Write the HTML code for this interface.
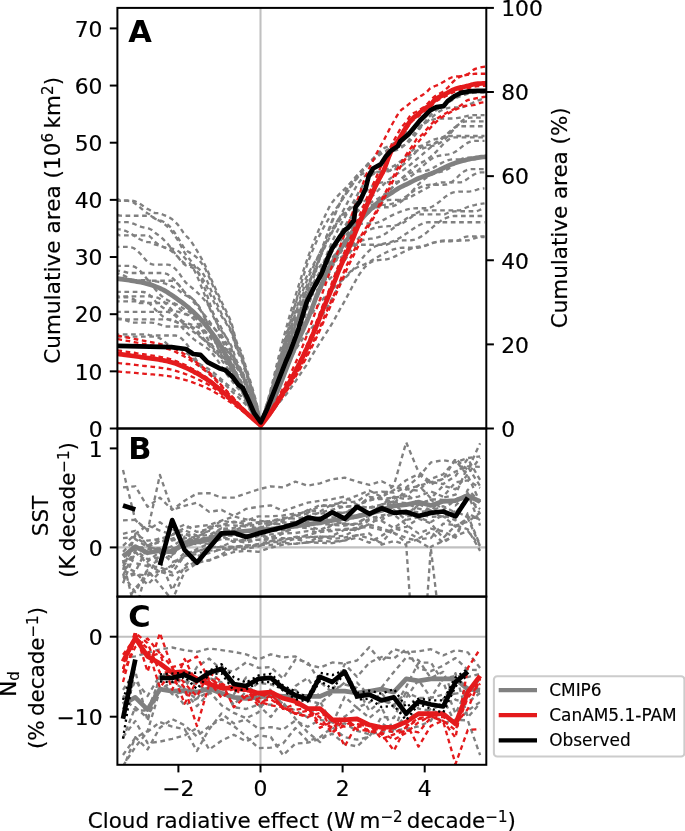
<!DOCTYPE html>
<html lang="en">
<head>
<meta charset="utf-8">
<title>Cumulative area vs cloud radiative effect</title>
<style>
html,body{margin:0;padding:0;background:#fff;}
body{width:685px;height:831px;overflow:hidden;}
svg{display:block;}
</style>
</head>
<body>
<svg width="685" height="831" viewBox="0 0 685 831">
<defs>
<clipPath id="ca"><rect x="117.40" y="7.90" width="368.90" height="420.60"/></clipPath>
<clipPath id="cb"><rect x="117.40" y="428.50" width="368.90" height="168.10"/></clipPath>
<clipPath id="cc"><rect x="117.40" y="596.60" width="368.90" height="168.20"/></clipPath>
</defs>
<rect width="685" height="831" fill="#fff"/>
<line x1="260.50" x2="260.50" y1="7.90" y2="764.80" stroke="#c0c0c0" stroke-width="2.08"/>
<line x1="117.40" x2="486.30" y1="547.40" y2="547.40" stroke="#c0c0c0" stroke-width="2.08"/>
<line x1="117.40" x2="486.30" y1="636.70" y2="636.70" stroke="#c0c0c0" stroke-width="2.08"/>
<path d="M117.4 199.0 L119.4 199.8 L121.4 200.3 L123.4 200.5 L125.4 200.5 L127.4 200.5 L129.4 200.5 L131.4 200.6 L133.4 201.0 L135.4 201.5 L137.4 202.4 L139.4 203.5 L141.4 204.8 L143.4 206.2 L145.4 207.6 L147.4 208.9 L149.4 209.8 L151.4 211.0 L153.4 212.7 L155.4 213.1 L157.4 213.1 L159.4 213.1 L161.4 213.9 L163.4 214.8 L165.4 215.6 L167.4 216.4 L169.4 217.4 L171.4 218.7 L173.4 220.3 L175.4 222.2 L177.4 224.2 L179.4 226.7 L181.4 229.7 L183.4 232.7 L185.4 235.3 L187.4 237.2 L189.4 239.2 L191.4 241.9 L193.4 244.8 L195.4 248.1 L197.4 251.4 L199.4 254.8 L201.4 258.4 L203.4 262.0 L205.4 265.9 L207.4 270.3 L209.4 275.0 L211.4 279.6 L213.4 284.1 L215.4 288.4 L217.4 292.7 L219.4 297.0 L221.4 301.4 L223.4 305.6 L225.4 309.5 L227.4 313.5 L229.4 317.8 L231.4 322.7 L233.4 330.0 L235.4 338.2 L237.4 344.2 L239.4 347.9 L241.4 352.1 L243.4 358.5 L245.4 365.4 L247.4 371.6 L249.4 378.0 L251.4 384.7 L253.4 391.5 L255.4 398.7 L257.4 406.2 L259.4 416.7 L262.5 416.7 L264.5 416.7 L266.5 416.7 L268.5 416.7 L270.5 414.3 L272.5 411.6 L274.5 408.8 L276.5 406.0 L278.5 403.4 L280.5 400.9 L282.5 398.6 L284.5 396.4 L286.5 393.9 L288.5 391.3 L290.5 388.5 L292.5 385.7 L294.5 382.8 L296.5 379.8 L298.5 376.8 L300.5 373.8 L302.5 370.8 L304.5 367.9 L306.5 365.1 L308.5 361.7 L310.5 358.2 L312.5 354.8 L314.5 351.4 L316.5 348.1 L318.5 344.9 L320.5 341.7 L322.5 338.6 L324.5 335.5 L326.5 332.4 L328.5 329.3 L330.5 326.1 L332.5 322.8 L334.5 319.2 L336.5 315.6 L338.5 311.9 L340.5 308.3 L342.5 304.8 L344.5 301.3 L346.5 297.6 L348.5 293.9 L350.5 290.1 L352.5 286.3 L354.5 282.6 L356.5 279.1 L358.5 275.7 L360.5 272.7 L362.5 270.0 L364.5 267.5 L366.5 265.5 L368.5 263.7 L370.5 262.4 L372.5 261.4 L374.5 260.8 L376.5 260.3 L378.5 260.1 L380.5 259.9 L382.5 259.8 L384.5 259.6 L386.5 259.3 L388.5 258.8 L390.5 258.2 L392.5 257.5 L394.5 256.6 L396.5 255.6 L398.5 254.6 L400.5 253.5 L402.5 252.5 L404.5 251.5 L406.5 250.5 L408.5 249.6 L410.5 248.8 L412.5 248.1 L414.5 247.5 L416.5 247.0 L418.5 246.7 L420.5 246.4 L422.5 246.3 L424.5 245.7 L426.5 245.0 L428.5 244.2 L430.5 243.5 L432.5 242.9 L434.5 242.4 L436.5 242.0 L438.5 241.7 L440.5 241.5 L442.5 241.4 L444.5 241.4 L446.5 241.4 L448.5 241.4 L450.5 241.3 L452.5 241.2 L454.5 241.0 L456.5 240.8 L458.5 240.6 L460.5 239.2 L462.5 238.0 L464.5 237.2 L466.5 236.6 L468.5 236.4 L470.5 236.4 L472.5 236.4 L474.5 236.4 L476.5 236.4 L478.5 236.4 L480.5 236.4 L482.5 236.4 L484.5 236.4" fill="none" stroke="#808080" stroke-width="2.35" stroke-dasharray="4.7 3.6" stroke-linecap="butt" stroke-linejoin="round" clip-path="url(#ca)" stroke-dashoffset="1.6"/>
<path d="M117.4 200.9 L119.4 200.9 L121.4 200.9 L123.4 200.9 L125.4 200.9 L127.4 200.9 L129.4 201.0 L131.4 201.5 L133.4 202.4 L135.4 203.7 L137.4 205.2 L139.4 206.9 L141.4 208.6 L143.4 210.3 L145.4 211.9 L147.4 213.3 L149.4 214.3 L151.4 215.7 L153.4 217.6 L155.4 218.9 L157.4 219.5 L159.4 220.1 L161.4 220.8 L163.4 221.8 L165.4 222.9 L167.4 224.3 L169.4 226.1 L171.4 228.4 L173.4 231.0 L175.4 233.8 L177.4 236.8 L179.4 240.0 L181.4 243.5 L183.4 246.9 L185.4 249.5 L187.4 251.3 L189.4 252.4 L191.4 253.5 L193.4 254.8 L195.4 256.4 L197.4 258.2 L199.4 260.4 L201.4 262.9 L203.4 265.7 L205.4 269.1 L207.4 273.2 L209.4 277.7 L211.4 282.4 L213.4 286.9 L215.4 291.3 L217.4 295.6 L219.4 300.0 L221.4 304.4 L223.4 308.6 L225.4 312.5 L227.4 316.4 L229.4 320.6 L231.4 325.4 L233.4 332.5 L235.4 340.6 L237.4 346.6 L239.4 350.4 L241.4 354.8 L243.4 361.2 L245.4 368.1 L247.4 374.3 L249.4 380.6 L251.4 387.2 L253.4 393.7 L255.4 400.5 L257.4 407.6 L259.4 417.3 L262.5 417.3 L264.5 417.1 L266.5 413.1 L268.5 408.9 L270.5 404.3 L272.5 399.4 L274.5 394.3 L276.5 389.2 L278.5 384.3 L280.5 379.6 L282.5 375.1 L284.5 370.9 L286.5 366.8 L288.5 362.8 L290.5 359.0 L292.5 355.2 L294.5 351.6 L296.5 348.2 L298.5 345.1 L300.5 342.1 L302.5 339.2 L304.5 336.4 L306.5 333.8 L308.5 331.4 L310.5 329.2 L312.5 326.9 L314.5 324.7 L316.5 322.4 L318.5 320.0 L320.5 317.5 L322.5 314.7 L324.5 311.7 L326.5 308.5 L328.5 305.1 L330.5 301.5 L332.5 297.8 L334.5 294.0 L336.5 290.2 L338.5 286.5 L340.5 283.2 L342.5 280.2 L344.5 277.6 L346.5 275.3 L348.5 273.3 L350.5 271.5 L352.5 270.0 L354.5 268.8 L356.5 267.7 L358.5 266.8 L360.5 266.0 L362.5 265.2 L364.5 264.4 L366.5 263.4 L368.5 262.4 L370.5 261.3 L372.5 260.1 L374.5 258.9 L376.5 257.7 L378.5 256.5 L380.5 255.4 L382.5 254.3 L384.5 253.2 L386.5 252.2 L388.5 251.3 L390.5 250.5 L392.5 249.7 L394.5 249.1 L396.5 248.5 L398.5 248.1 L400.5 247.8 L402.5 247.7 L404.5 247.7 L406.5 247.7 L408.5 247.7 L410.5 247.7 L412.5 247.7 L414.5 247.7 L416.5 247.7 L418.5 247.7 L420.5 247.3 L422.5 246.8 L424.5 246.2 L426.5 245.5 L428.5 244.7 L430.5 243.9 L432.5 243.2 L434.5 242.5 L436.5 241.8 L438.5 241.4 L440.5 241.0 L442.5 240.6 L444.5 240.5 L446.5 240.5 L448.5 240.5 L450.5 240.5 L452.5 240.5 L454.5 240.5 L456.5 240.5 L458.5 240.5 L460.5 240.5 L462.5 240.5 L464.5 240.5 L466.5 240.4 L468.5 240.3 L470.5 239.7 L472.5 238.9 L474.5 238.3 L476.5 237.7 L478.5 237.4 L480.5 237.1 L482.5 237.0 L484.5 237.0" fill="none" stroke="#808080" stroke-width="2.35" stroke-dasharray="4.7 3.6" stroke-linecap="butt" stroke-linejoin="round" clip-path="url(#ca)" stroke-dashoffset="1.1"/>
<path d="M117.4 215.0 L119.4 215.5 L121.4 215.7 L123.4 215.7 L125.4 215.7 L127.4 215.7 L129.4 215.7 L131.4 215.7 L133.4 215.7 L135.4 215.7 L137.4 215.7 L139.4 215.7 L141.4 215.7 L143.4 215.7 L145.4 215.7 L147.4 215.7 L149.4 215.7 L151.4 216.2 L153.4 217.6 L155.4 218.9 L157.4 219.8 L159.4 220.8 L161.4 221.9 L163.4 223.3 L165.4 224.9 L167.4 226.6 L169.4 228.6 L171.4 231.0 L173.4 233.6 L175.4 236.5 L177.4 239.5 L179.4 242.9 L181.4 246.8 L183.4 250.6 L185.4 254.0 L187.4 256.7 L189.4 259.0 L191.4 261.4 L193.4 264.3 L195.4 267.5 L197.4 271.2 L199.4 275.3 L201.4 279.8 L203.4 284.7 L205.4 290.1 L207.4 296.0 L209.4 302.2 L211.4 308.3 L213.4 314.2 L215.4 319.7 L217.4 325.0 L219.4 330.0 L221.4 334.5 L223.4 338.4 L225.4 341.9 L227.4 345.1 L229.4 348.3 L231.4 351.9 L233.4 356.8 L235.4 362.3 L237.4 366.6 L239.4 369.8 L241.4 373.4 L243.4 378.3 L245.4 383.6 L247.4 388.5 L249.4 393.4 L251.4 398.5 L253.4 403.5 L255.4 408.5 L257.4 413.7 L259.4 420.2 L262.5 420.2 L264.5 415.8 L266.5 411.0 L268.5 406.0 L270.5 400.6 L272.5 394.8 L274.5 388.9 L276.5 382.9 L278.5 377.3 L280.5 372.1 L282.5 367.2 L284.5 362.7 L286.5 358.4 L288.5 354.2 L290.5 350.3 L292.5 346.4 L294.5 342.6 L296.5 339.0 L298.5 335.5 L300.5 332.1 L302.5 328.6 L304.5 325.2 L306.5 321.8 L308.5 318.6 L310.5 315.6 L312.5 312.7 L314.5 309.9 L316.5 307.2 L318.5 304.6 L320.5 302.1 L322.5 299.7 L324.5 297.3 L326.5 295.1 L328.5 293.0 L330.5 291.0 L332.5 289.0 L334.5 287.1 L336.5 285.2 L338.5 283.3 L340.5 281.6 L342.5 280.0 L344.5 278.4 L346.5 276.6 L348.5 274.6 L350.5 272.5 L352.5 270.2 L354.5 267.8 L356.5 265.3 L358.5 262.8 L360.5 260.4 L362.5 257.9 L364.5 255.6 L366.5 253.3 L368.5 251.3 L370.5 249.5 L372.5 248.0 L374.5 246.8 L376.5 245.8 L378.5 245.0 L380.5 244.4 L382.5 244.0 L384.5 243.5 L386.5 243.1 L388.5 242.6 L390.5 242.1 L392.5 241.4 L394.5 240.6 L396.5 239.6 L398.5 238.6 L400.5 237.4 L402.5 236.1 L404.5 234.8 L406.5 233.4 L408.5 232.1 L410.5 230.7 L412.5 229.3 L414.5 228.0 L416.5 226.7 L418.5 225.5 L420.5 224.5 L422.5 223.6 L424.5 222.9 L426.5 222.4 L428.5 222.2 L430.5 222.2 L432.5 222.2 L434.5 222.2 L436.5 222.2 L438.5 222.2 L440.5 222.2 L442.5 222.2 L444.5 222.2 L446.5 222.2 L448.5 222.2 L450.5 222.2 L452.5 222.2 L454.5 222.2 L456.5 222.2 L458.5 222.2 L460.5 222.2 L462.5 222.2 L464.5 222.2 L466.5 222.2 L468.5 222.2 L470.5 222.2 L472.5 222.2 L474.5 222.2 L476.5 222.2 L478.5 222.2 L480.5 222.2 L482.5 222.2 L484.5 222.2" fill="none" stroke="#808080" stroke-width="2.35" stroke-dasharray="4.7 3.6" stroke-linecap="butt" stroke-linejoin="round" clip-path="url(#ca)" stroke-dashoffset="0.1"/>
<path d="M117.4 222.1 L119.4 222.1 L121.4 222.1 L123.4 222.1 L125.4 222.1 L127.4 222.1 L129.4 222.4 L131.4 223.0 L133.4 223.7 L135.4 224.5 L137.4 225.4 L139.4 226.2 L141.4 226.9 L143.4 227.4 L145.4 227.9 L147.4 228.2 L149.4 228.7 L151.4 229.7 L153.4 231.5 L155.4 233.1 L157.4 234.4 L159.4 235.9 L161.4 237.5 L163.4 239.4 L165.4 241.5 L167.4 243.6 L169.4 246.1 L171.4 248.7 L173.4 251.4 L175.4 254.0 L177.4 256.4 L179.4 258.9 L181.4 261.4 L183.4 263.6 L185.4 265.2 L187.4 266.1 L189.4 266.6 L191.4 267.2 L193.4 268.2 L195.4 269.6 L197.4 271.6 L199.4 274.0 L201.4 276.8 L203.4 280.0 L205.4 283.6 L207.4 287.9 L209.4 292.4 L211.4 296.9 L213.4 301.1 L215.4 305.1 L217.4 308.8 L219.4 312.4 L221.4 315.9 L223.4 319.2 L225.4 322.2 L227.4 325.3 L229.4 328.7 L231.4 332.7 L233.4 338.9 L235.4 346.2 L237.4 351.6 L239.4 355.2 L241.4 359.3 L243.4 365.3 L245.4 371.7 L247.4 377.6 L249.4 383.5 L251.4 389.6 L253.4 395.8 L255.4 402.2 L257.4 408.8 L259.4 417.9 L262.5 417.9 L264.5 412.1 L266.5 405.8 L268.5 399.5 L270.5 392.9 L272.5 386.1 L274.5 379.1 L276.5 372.1 L278.5 365.5 L280.5 359.1 L282.5 353.0 L284.5 347.0 L286.5 341.0 L288.5 335.0 L290.5 329.1 L292.5 323.2 L294.5 317.6 L296.5 312.2 L298.5 307.3 L300.5 302.7 L302.5 298.6 L304.5 294.9 L306.5 291.7 L308.5 288.8 L310.5 286.3 L312.5 284.0 L314.5 281.7 L316.5 279.4 L318.5 276.9 L320.5 274.3 L322.5 271.5 L324.5 268.6 L326.5 265.7 L328.5 262.8 L330.5 260.0 L332.5 257.4 L334.5 255.0 L336.5 252.8 L338.5 250.9 L340.5 249.3 L342.5 248.1 L344.5 247.1 L346.5 246.3 L348.5 245.7 L350.5 245.2 L352.5 244.9 L354.5 244.7 L356.5 244.7 L358.5 244.7 L360.5 244.7 L362.5 244.7 L364.5 244.7 L366.5 244.7 L368.5 244.7 L370.5 244.7 L372.5 244.7 L374.5 244.7 L376.5 244.7 L378.5 244.7 L380.5 244.7 L382.5 244.7 L384.5 244.7 L386.5 244.7 L388.5 243.9 L390.5 243.0 L392.5 242.2 L394.5 241.6 L396.5 241.1 L398.5 240.8 L400.5 240.6 L402.5 240.4 L404.5 240.4 L406.5 240.4 L408.5 240.4 L410.5 240.3 L412.5 240.0 L414.5 239.6 L416.5 238.9 L418.5 238.0 L420.5 236.9 L422.5 235.6 L424.5 234.2 L426.5 232.6 L428.5 230.9 L430.5 229.2 L432.5 227.4 L434.5 225.7 L436.5 224.0 L438.5 222.5 L440.5 221.1 L442.5 219.8 L444.5 218.7 L446.5 217.8 L448.5 217.1 L450.5 216.5 L452.5 216.2 L454.5 216.0 L456.5 216.0 L458.5 216.0 L460.5 216.0 L462.5 216.0 L464.5 216.0 L466.5 216.0 L468.5 216.0 L470.5 216.0 L472.5 216.0 L474.5 216.0 L476.5 216.0 L478.5 216.0 L480.5 216.0 L482.5 216.0 L484.5 216.0" fill="none" stroke="#808080" stroke-width="2.35" stroke-dasharray="4.7 3.6" stroke-linecap="butt" stroke-linejoin="round" clip-path="url(#ca)" stroke-dashoffset="1.6"/>
<path d="M117.4 229.3 L119.4 229.4 L121.4 229.6 L123.4 230.1 L125.4 230.8 L127.4 231.7 L129.4 232.7 L131.4 234.0 L133.4 235.3 L135.4 236.6 L137.4 237.8 L139.4 239.0 L141.4 240.0 L143.4 240.9 L145.4 241.6 L147.4 242.1 L149.4 242.2 L151.4 242.7 L153.4 243.8 L155.4 244.7 L157.4 245.2 L159.4 245.7 L161.4 246.3 L163.4 247.0 L165.4 247.8 L167.4 248.6 L169.4 249.7 L171.4 251.1 L173.4 252.8 L175.4 254.5 L177.4 256.3 L179.4 258.3 L181.4 260.5 L183.4 262.5 L185.4 263.9 L187.4 264.6 L189.4 264.9 L191.4 265.1 L193.4 265.6 L195.4 266.5 L197.4 267.7 L199.4 269.4 L201.4 271.5 L203.4 274.2 L205.4 277.5 L207.4 281.6 L209.4 286.2 L211.4 291.0 L213.4 295.7 L215.4 300.3 L217.4 304.8 L219.4 309.1 L221.4 313.3 L223.4 317.1 L225.4 320.5 L227.4 323.7 L229.4 327.0 L231.4 331.0 L233.4 337.0 L235.4 344.1 L237.4 349.3 L239.4 352.8 L241.4 356.8 L243.4 363.0 L245.4 369.8 L247.4 376.0 L249.4 382.3 L251.4 388.8 L253.4 395.3 L255.4 401.9 L257.4 408.8 L259.4 418.1 L262.5 418.1 L264.5 413.0 L266.5 407.5 L268.5 402.0 L270.5 396.1 L272.5 389.9 L274.5 383.5 L276.5 377.0 L278.5 370.8 L280.5 364.9 L282.5 359.2 L284.5 353.6 L286.5 348.1 L288.5 342.7 L290.5 337.4 L292.5 332.2 L294.5 327.2 L296.5 322.4 L298.5 318.0 L300.5 313.8 L302.5 309.8 L304.5 306.1 L306.5 302.8 L308.5 299.8 L310.5 297.1 L312.5 294.7 L314.5 292.5 L316.5 290.5 L318.5 288.5 L320.5 286.7 L322.5 284.9 L324.5 283.2 L326.5 281.5 L328.5 279.7 L330.5 278.0 L332.5 276.1 L334.5 274.0 L336.5 271.7 L338.5 269.1 L340.5 266.4 L342.5 263.7 L344.5 260.8 L346.5 257.8 L348.5 254.7 L350.5 251.7 L352.5 248.9 L354.5 246.4 L356.5 244.3 L358.5 242.5 L360.5 241.2 L362.5 240.3 L364.5 239.7 L366.5 239.2 L368.5 239.0 L370.5 238.7 L372.5 238.5 L374.5 238.2 L376.5 237.7 L378.5 237.1 L380.5 236.3 L382.5 235.3 L384.5 234.2 L386.5 233.0 L388.5 231.6 L390.5 230.2 L392.5 228.8 L394.5 227.3 L396.5 225.8 L398.5 224.3 L400.5 222.8 L402.5 221.3 L404.5 219.9 L406.5 218.5 L408.5 217.3 L410.5 216.2 L412.5 215.4 L414.5 214.8 L416.5 214.5 L418.5 214.4 L420.5 214.4 L422.5 214.4 L424.5 214.4 L426.5 214.4 L428.5 214.4 L430.5 214.4 L432.5 214.4 L434.5 214.4 L436.5 214.4 L438.5 214.4 L440.5 214.4 L442.5 214.4 L444.5 214.3 L446.5 213.5 L448.5 212.7 L450.5 212.0 L452.5 211.5 L454.5 211.3 L456.5 211.2 L458.5 211.2 L460.5 211.2 L462.5 211.2 L464.5 211.2 L466.5 211.2 L468.5 211.2 L470.5 211.2 L472.5 211.2 L474.5 211.2 L476.5 211.2 L478.5 210.5 L480.5 209.7 L482.5 209.0 L484.5 208.3" fill="none" stroke="#808080" stroke-width="2.35" stroke-dasharray="4.7 3.6" stroke-linecap="butt" stroke-linejoin="round" clip-path="url(#ca)" stroke-dashoffset="1.4"/>
<path d="M117.4 234.2 L119.4 235.3 L121.4 235.3 L123.4 235.3 L125.4 235.3 L127.4 235.3 L129.4 235.3 L131.4 235.3 L133.4 235.3 L135.4 235.3 L137.4 235.3 L139.4 235.3 L141.4 235.3 L143.4 235.3 L145.4 235.3 L147.4 235.4 L149.4 236.2 L151.4 237.8 L153.4 240.2 L155.4 242.3 L157.4 243.8 L159.4 245.1 L161.4 246.1 L163.4 247.0 L165.4 247.6 L167.4 247.9 L169.4 248.1 L171.4 248.5 L173.4 249.0 L175.4 249.7 L177.4 250.5 L179.4 251.9 L181.4 254.0 L183.4 256.3 L185.4 258.7 L187.4 260.7 L189.4 262.8 L191.4 265.4 L193.4 268.6 L195.4 272.5 L197.4 276.9 L199.4 281.7 L201.4 286.7 L203.4 291.7 L205.4 296.9 L207.4 302.3 L209.4 307.5 L211.4 312.4 L213.4 316.7 L215.4 320.7 L217.4 324.2 L219.4 327.6 L221.4 330.6 L223.4 333.5 L225.4 336.2 L227.4 339.0 L229.4 342.2 L231.4 346.0 L233.4 351.4 L235.4 357.7 L237.4 362.6 L239.4 366.2 L241.4 370.1 L243.4 375.3 L245.4 380.8 L247.4 385.8 L249.4 390.8 L251.4 395.9 L253.4 401.1 L255.4 406.3 L257.4 411.9 L259.4 419.2 L262.5 418.2 L264.5 412.2 L266.5 406.2 L268.5 400.1 L270.5 393.7 L272.5 387.0 L274.5 380.1 L276.5 373.2 L278.5 366.6 L280.5 360.4 L282.5 354.6 L284.5 349.0 L286.5 343.6 L288.5 338.4 L290.5 333.4 L292.5 328.6 L294.5 324.1 L296.5 319.8 L298.5 315.8 L300.5 312.0 L302.5 308.0 L304.5 304.2 L306.5 300.4 L308.5 296.8 L310.5 293.3 L312.5 289.9 L314.5 286.6 L316.5 283.3 L318.5 280.2 L320.5 277.1 L322.5 274.1 L324.5 271.4 L326.5 269.0 L328.5 266.8 L330.5 265.0 L332.5 263.4 L334.5 261.9 L336.5 260.4 L338.5 259.0 L340.5 257.6 L342.5 256.1 L344.5 254.4 L346.5 252.5 L348.5 250.3 L350.5 248.0 L352.5 245.5 L354.5 243.0 L356.5 240.5 L358.5 238.2 L360.5 236.2 L362.5 234.3 L364.5 232.7 L366.5 231.3 L368.5 230.2 L370.5 229.3 L372.5 228.5 L374.5 228.0 L376.5 227.5 L378.5 227.2 L380.5 226.9 L382.5 226.7 L384.5 226.5 L386.5 226.4 L388.5 226.2 L390.5 226.1 L392.5 225.9 L394.5 225.6 L396.5 225.2 L398.5 224.7 L400.5 224.0 L402.5 223.1 L404.5 222.0 L406.5 220.7 L408.5 219.3 L410.5 217.7 L412.5 216.2 L414.5 214.7 L416.5 213.3 L418.5 212.1 L420.5 211.2 L422.5 210.6 L424.5 210.3 L426.5 210.3 L428.5 210.3 L430.5 210.3 L432.5 210.3 L434.5 210.3 L436.5 210.3 L438.5 210.3 L440.5 210.3 L442.5 210.3 L444.5 210.3 L446.5 210.3 L448.5 210.3 L450.5 210.3 L452.5 210.3 L454.5 210.3 L456.5 210.3 L458.5 210.3 L460.5 210.3 L462.5 209.3 L464.5 208.3 L466.5 207.5 L468.5 206.7 L470.5 206.1 L472.5 205.5 L474.5 205.1 L476.5 204.6 L478.5 204.3 L480.5 203.9 L482.5 203.6 L484.5 203.3" fill="none" stroke="#808080" stroke-width="2.35" stroke-dasharray="4.7 3.6" stroke-linecap="butt" stroke-linejoin="round" clip-path="url(#ca)" stroke-dashoffset="1.4"/>
<path d="M117.4 246.9 L119.4 246.9 L121.4 246.9 L123.4 246.9 L125.4 246.9 L127.4 246.9 L129.4 246.9 L131.4 247.3 L133.4 248.0 L135.4 249.2 L137.4 250.8 L139.4 252.8 L141.4 254.9 L143.4 257.3 L145.4 259.6 L147.4 261.7 L149.4 263.0 L151.4 264.2 L153.4 264.6 L155.4 264.6 L157.4 264.6 L159.4 264.6 L161.4 264.6 L163.4 264.6 L165.4 264.6 L167.4 264.6 L169.4 264.9 L171.4 265.8 L173.4 267.2 L175.4 269.0 L177.4 271.1 L179.4 273.7 L181.4 276.6 L183.4 279.6 L185.4 282.1 L187.4 284.1 L189.4 285.7 L191.4 287.3 L193.4 289.0 L195.4 290.7 L197.4 292.6 L199.4 294.5 L201.4 296.6 L203.4 298.7 L205.4 301.1 L207.4 303.9 L209.4 307.1 L211.4 310.4 L213.4 313.7 L215.4 317.1 L217.4 320.6 L219.4 324.2 L221.4 328.1 L223.4 332.2 L225.4 336.1 L227.4 340.0 L229.4 344.2 L231.4 348.7 L233.4 354.5 L235.4 360.8 L237.4 365.6 L239.4 369.0 L241.4 372.6 L243.4 377.4 L245.4 382.5 L247.4 387.2 L249.4 391.8 L251.4 396.7 L253.4 401.6 L255.4 406.8 L257.4 412.2 L259.4 419.3 L262.5 418.5 L264.5 413.2 L266.5 407.9 L268.5 402.5 L270.5 396.8 L272.5 390.8 L274.5 384.6 L276.5 378.3 L278.5 372.2 L280.5 366.3 L282.5 360.6 L284.5 354.9 L286.5 349.3 L288.5 343.8 L290.5 338.3 L292.5 332.8 L294.5 327.6 L296.5 322.6 L298.5 317.8 L300.5 313.3 L302.5 309.0 L304.5 304.9 L306.5 301.2 L308.5 297.7 L310.5 294.4 L312.5 291.4 L314.5 288.4 L316.5 285.5 L318.5 282.6 L320.5 279.6 L322.5 276.6 L324.5 273.5 L326.5 270.4 L328.5 267.3 L330.5 264.1 L332.5 260.9 L334.5 257.5 L336.5 254.1 L338.5 250.6 L340.5 247.2 L342.5 243.8 L344.5 240.5 L346.5 237.4 L348.5 234.4 L350.5 231.7 L352.5 229.3 L354.5 227.3 L356.5 225.7 L358.5 224.6 L360.5 224.0 L362.5 223.6 L364.5 223.5 L366.5 223.5 L368.5 223.5 L370.5 223.5 L372.5 223.5 L374.5 223.2 L376.5 222.8 L378.5 222.2 L380.5 221.4 L382.5 220.4 L384.5 219.4 L386.5 218.3 L388.5 217.2 L390.5 216.1 L392.5 215.1 L394.5 214.2 L396.5 213.3 L398.5 212.5 L400.5 211.7 L402.5 211.0 L404.5 210.3 L406.5 209.7 L408.5 209.2 L410.5 208.8 L412.5 208.5 L414.5 208.3 L416.5 208.2 L418.5 208.2 L420.5 208.2 L422.5 208.2 L424.5 208.2 L426.5 208.2 L428.5 208.0 L430.5 207.3 L432.5 206.5 L434.5 205.3 L436.5 204.0 L438.5 202.4 L440.5 200.8 L442.5 199.1 L444.5 197.4 L446.5 195.9 L448.5 194.6 L450.5 193.5 L452.5 192.6 L454.5 192.1 L456.5 191.8 L458.5 191.6 L460.5 191.6 L462.5 191.6 L464.5 191.6 L466.5 191.6 L468.5 191.6 L470.5 191.3 L472.5 190.9 L474.5 190.3 L476.5 189.8 L478.5 189.2 L480.5 188.8 L482.5 188.5 L484.5 188.3" fill="none" stroke="#808080" stroke-width="2.35" stroke-dasharray="4.7 3.6" stroke-linecap="butt" stroke-linejoin="round" clip-path="url(#ca)" stroke-dashoffset="2.7"/>
<path d="M117.4 265.9 L119.4 265.9 L121.4 265.9 L123.4 265.9 L125.4 265.9 L127.4 265.9 L129.4 265.9 L131.4 266.0 L133.4 266.4 L135.4 267.2 L137.4 268.5 L139.4 270.2 L141.4 272.2 L143.4 274.6 L145.4 277.0 L147.4 279.5 L149.4 280.7 L151.4 280.7 L153.4 280.7 L155.4 280.7 L157.4 280.7 L159.4 280.7 L161.4 280.7 L163.4 280.7 L165.4 280.7 L167.4 280.7 L169.4 280.7 L171.4 280.7 L173.4 281.2 L175.4 282.1 L177.4 283.5 L179.4 285.5 L181.4 288.0 L183.4 290.7 L185.4 293.2 L187.4 295.4 L189.4 297.4 L191.4 299.5 L193.4 301.8 L195.4 304.2 L197.4 306.7 L199.4 309.1 L201.4 311.4 L203.4 313.7 L205.4 316.1 L207.4 318.7 L209.4 321.5 L211.4 324.3 L213.4 327.1 L215.4 329.9 L217.4 332.9 L219.4 336.1 L221.4 339.6 L223.4 343.4 L225.4 347.2 L227.4 351.1 L229.4 355.2 L231.4 359.6 L233.4 364.9 L235.4 370.5 L237.4 374.9 L239.4 378.1 L241.4 381.5 L243.4 385.6 L245.4 389.9 L247.4 393.8 L249.4 397.7 L251.4 401.7 L253.4 405.7 L255.4 410.0 L257.4 414.5 L259.4 420.3 L262.5 418.5 L264.5 413.0 L266.5 407.6 L268.5 401.9 L270.5 395.9 L272.5 389.4 L274.5 382.5 L276.5 375.5 L278.5 368.7 L280.5 362.1 L282.5 355.8 L284.5 349.8 L286.5 344.0 L288.5 338.4 L290.5 333.1 L292.5 328.1 L294.5 323.4 L296.5 319.1 L298.5 315.2 L300.5 311.6 L302.5 307.8 L304.5 304.1 L306.5 300.3 L308.5 296.6 L310.5 292.9 L312.5 289.1 L314.5 285.2 L316.5 281.2 L318.5 277.1 L320.5 273.0 L322.5 268.8 L324.5 264.7 L326.5 260.7 L328.5 256.8 L330.5 253.2 L332.5 249.7 L334.5 246.5 L336.5 243.4 L338.5 240.5 L340.5 237.8 L342.5 235.3 L344.5 233.0 L346.5 230.9 L348.5 228.8 L350.5 226.8 L352.5 225.0 L354.5 223.3 L356.5 221.7 L358.5 220.3 L360.5 218.9 L362.5 217.5 L364.5 216.1 L366.5 214.6 L368.5 212.9 L370.5 211.2 L372.5 209.5 L374.5 207.8 L376.5 206.1 L378.5 204.6 L380.5 203.2 L382.5 202.0 L384.5 201.1 L386.5 200.5 L388.5 200.0 L390.5 199.8 L392.5 199.8 L394.5 199.8 L396.5 199.8 L398.5 199.8 L400.5 199.8 L402.5 199.7 L404.5 199.2 L406.5 198.6 L408.5 197.8 L410.5 196.9 L412.5 195.9 L414.5 194.8 L416.5 193.7 L418.5 192.6 L420.5 191.5 L422.5 190.4 L424.5 189.4 L426.5 188.3 L428.5 187.2 L430.5 186.1 L432.5 185.1 L434.5 184.3 L436.5 183.5 L438.5 182.9 L440.5 182.5 L442.5 182.3 L444.5 182.3 L446.5 182.3 L448.5 182.3 L450.5 182.3 L452.5 182.3 L454.5 182.3 L456.5 182.3 L458.5 182.3 L460.5 182.3 L462.5 182.1 L464.5 180.9 L466.5 179.6 L468.5 178.1 L470.5 176.7 L472.5 175.4 L474.5 174.3 L476.5 173.4 L478.5 172.8 L480.5 172.4 L482.5 172.4 L484.5 172.4" fill="none" stroke="#808080" stroke-width="2.35" stroke-dasharray="4.7 3.6" stroke-linecap="butt" stroke-linejoin="round" clip-path="url(#ca)" stroke-dashoffset="1.2"/>
<path d="M117.4 270.6 L119.4 270.9 L121.4 271.2 L123.4 271.5 L125.4 272.0 L127.4 272.6 L129.4 273.0 L131.4 273.0 L133.4 273.0 L135.4 273.0 L137.4 273.0 L139.4 273.0 L141.4 273.0 L143.4 273.0 L145.4 273.0 L147.4 273.0 L149.4 273.0 L151.4 273.0 L153.4 273.0 L155.4 273.0 L157.4 273.0 L159.4 273.0 L161.4 273.0 L163.4 273.1 L165.4 273.5 L167.4 274.2 L169.4 275.4 L171.4 277.0 L173.4 278.9 L175.4 281.0 L177.4 283.3 L179.4 285.8 L181.4 288.4 L183.4 291.0 L185.4 293.1 L187.4 294.8 L189.4 296.2 L191.4 297.9 L193.4 299.9 L195.4 302.3 L197.4 305.0 L199.4 308.2 L201.4 311.7 L203.4 315.5 L205.4 319.6 L207.4 324.1 L209.4 328.8 L211.4 333.5 L213.4 338.1 L215.4 342.5 L217.4 346.7 L219.4 350.9 L221.4 354.8 L223.4 358.5 L225.4 361.9 L227.4 365.2 L229.4 368.4 L231.4 371.7 L233.4 375.5 L235.4 379.4 L237.4 382.7 L239.4 385.2 L241.4 387.9 L243.4 391.2 L245.4 394.6 L247.4 397.9 L249.4 401.2 L251.4 404.7 L253.4 408.2 L255.4 412.0 L257.4 416.0 L259.4 420.9 L262.5 420.9 L264.5 416.8 L266.5 412.5 L268.5 408.0 L270.5 403.2 L272.5 398.0 L274.5 392.7 L276.5 387.5 L278.5 382.5 L280.5 377.8 L282.5 373.4 L284.5 369.2 L286.5 365.1 L288.5 361.1 L290.5 357.1 L292.5 353.0 L294.5 348.8 L296.5 344.6 L298.5 340.2 L300.5 335.8 L302.5 330.9 L304.5 326.0 L306.5 321.1 L308.5 316.3 L310.5 311.6 L312.5 307.1 L314.5 302.6 L316.5 298.3 L318.5 294.1 L320.5 289.9 L322.5 285.8 L324.5 281.7 L326.5 277.8 L328.5 274.0 L330.5 270.3 L332.5 266.7 L334.5 263.2 L336.5 259.7 L338.5 256.3 L340.5 253.0 L342.5 249.8 L344.5 246.7 L346.5 243.4 L348.5 240.1 L350.5 236.6 L352.5 233.1 L354.5 229.6 L356.5 226.1 L358.5 222.7 L360.5 219.6 L362.5 216.7 L364.5 214.0 L366.5 211.7 L368.5 209.7 L370.5 208.0 L372.5 206.8 L374.5 205.9 L376.5 205.4 L378.5 205.1 L380.5 204.9 L382.5 204.9 L384.5 204.8 L386.5 204.7 L388.5 204.5 L390.5 204.1 L392.5 203.6 L394.5 202.9 L396.5 202.1 L398.5 201.1 L400.5 200.1 L402.5 198.9 L404.5 197.5 L406.5 196.1 L408.5 194.7 L410.5 193.2 L412.5 191.8 L414.5 190.5 L416.5 189.2 L418.5 188.1 L420.5 187.1 L422.5 186.3 L424.5 185.7 L426.5 185.2 L428.5 184.9 L430.5 184.7 L432.5 184.7 L434.5 184.7 L436.5 184.7 L438.5 184.7 L440.5 184.7 L442.5 184.7 L444.5 184.7 L446.5 184.5 L448.5 183.8 L450.5 182.7 L452.5 181.4 L454.5 179.8 L456.5 178.1 L458.5 176.0 L460.5 174.1 L462.5 172.5 L464.5 171.1 L466.5 170.2 L468.5 169.5 L470.5 169.2 L472.5 169.1 L474.5 169.1 L476.5 169.1 L478.5 169.1 L480.5 169.1 L482.5 169.1 L484.5 169.1" fill="none" stroke="#808080" stroke-width="2.35" stroke-dasharray="4.7 3.6" stroke-linecap="butt" stroke-linejoin="round" clip-path="url(#ca)" stroke-dashoffset="2.0"/>
<path d="M117.4 273.4 L119.4 273.9 L121.4 274.6 L123.4 275.4 L125.4 276.4 L127.4 277.5 L129.4 278.7 L131.4 279.7 L133.4 280.6 L135.4 280.6 L137.4 280.6 L139.4 280.6 L141.4 280.6 L143.4 280.6 L145.4 280.6 L147.4 280.6 L149.4 280.6 L151.4 280.6 L153.4 281.0 L155.4 281.3 L157.4 281.6 L159.4 282.0 L161.4 282.4 L163.4 283.0 L165.4 283.7 L167.4 284.4 L169.4 285.1 L171.4 286.1 L173.4 287.2 L175.4 288.3 L177.4 289.5 L179.4 290.9 L181.4 292.5 L183.4 294.0 L185.4 295.3 L187.4 296.2 L189.4 297.0 L191.4 298.0 L193.4 299.6 L195.4 301.6 L197.4 304.1 L199.4 307.0 L201.4 310.5 L203.4 314.2 L205.4 318.4 L207.4 323.1 L209.4 327.9 L211.4 332.7 L213.4 337.4 L215.4 341.8 L217.4 346.0 L219.4 349.9 L221.4 353.6 L223.4 356.9 L225.4 359.9 L227.4 362.7 L229.4 365.5 L231.4 368.5 L233.4 372.3 L235.4 376.3 L237.4 379.8 L239.4 382.6 L241.4 385.6 L243.4 389.5 L245.4 393.5 L247.4 397.3 L249.4 401.1 L251.4 404.9 L253.4 408.7 L255.4 412.5 L257.4 416.5 L259.4 421.4 L262.5 420.4 L264.5 415.8 L266.5 411.0 L268.5 406.0 L270.5 400.7 L272.5 395.0 L274.5 389.1 L276.5 383.1 L278.5 377.5 L280.5 372.1 L282.5 367.0 L284.5 362.0 L286.5 357.2 L288.5 352.4 L290.5 347.5 L292.5 342.5 L294.5 337.4 L296.5 332.2 L298.5 327.0 L300.5 321.6 L302.5 316.1 L304.5 310.6 L306.5 305.2 L308.5 299.9 L310.5 294.8 L312.5 290.0 L314.5 285.3 L316.5 280.8 L318.5 276.5 L320.5 272.3 L322.5 268.2 L324.5 264.3 L326.5 260.6 L328.5 257.1 L330.5 253.9 L332.5 251.0 L334.5 248.2 L336.5 245.6 L338.5 243.1 L340.5 240.8 L342.5 238.7 L344.5 236.6 L346.5 234.4 L348.5 232.1 L350.5 229.8 L352.5 227.3 L354.5 224.8 L356.5 222.3 L358.5 219.9 L360.5 217.6 L362.5 215.4 L364.5 213.4 L366.5 211.6 L368.5 210.2 L370.5 209.0 L372.5 208.1 L374.5 207.6 L376.5 207.3 L378.5 207.2 L380.5 207.2 L382.5 207.2 L384.5 207.2 L386.5 207.2 L388.5 207.2 L390.5 206.9 L392.5 206.3 L394.5 205.6 L396.5 204.6 L398.5 203.5 L400.5 202.1 L402.5 200.6 L404.5 198.8 L406.5 197.0 L408.5 194.9 L410.5 192.9 L412.5 190.7 L414.5 188.6 L416.5 186.4 L418.5 184.4 L420.5 182.5 L422.5 180.7 L424.5 179.1 L426.5 177.6 L428.5 176.3 L430.5 175.2 L432.5 174.3 L434.5 173.5 L436.5 172.9 L438.5 172.4 L440.5 171.9 L442.5 171.4 L444.5 170.6 L446.5 169.8 L448.5 168.7 L450.5 167.3 L452.5 165.8 L454.5 164.0 L456.5 162.2 L458.5 160.7 L460.5 159.5 L462.5 158.6 L464.5 158.0 L466.5 157.7 L468.5 157.7 L470.5 157.7 L472.5 157.7 L474.5 157.7 L476.5 157.7 L478.5 157.7 L480.5 157.7 L482.5 157.7 L484.5 157.7" fill="none" stroke="#808080" stroke-width="2.35" stroke-dasharray="4.7 3.6" stroke-linecap="butt" stroke-linejoin="round" clip-path="url(#ca)" stroke-dashoffset="2.5"/>
<path d="M117.4 280.1 L119.4 280.1 L121.4 280.1 L123.4 280.1 L125.4 280.1 L127.4 280.1 L129.4 280.1 L131.4 280.1 L133.4 280.1 L135.4 280.1 L137.4 280.1 L139.4 280.1 L141.4 280.1 L143.4 280.1 L145.4 280.1 L147.4 280.5 L149.4 282.1 L151.4 284.3 L153.4 287.0 L155.4 289.5 L157.4 291.8 L159.4 293.9 L161.4 295.8 L163.4 297.5 L165.4 298.9 L167.4 300.0 L169.4 301.0 L171.4 301.9 L173.4 302.9 L175.4 303.8 L177.4 304.8 L179.4 305.9 L181.4 307.1 L183.4 308.5 L185.4 309.7 L187.4 310.8 L189.4 312.0 L191.4 313.6 L193.4 315.5 L195.4 317.8 L197.4 320.4 L199.4 323.2 L201.4 326.0 L203.4 328.8 L205.4 331.6 L207.4 334.3 L209.4 336.8 L211.4 339.1 L213.4 341.1 L215.4 342.8 L217.4 344.2 L219.4 345.6 L221.4 346.8 L223.4 348.1 L225.4 349.4 L227.4 350.9 L229.4 353.0 L231.4 355.6 L233.4 359.8 L235.4 364.9 L237.4 368.9 L239.4 372.0 L241.4 375.5 L243.4 380.1 L245.4 385.1 L247.4 389.6 L249.4 394.2 L251.4 398.9 L253.4 403.5 L255.4 408.4 L257.4 413.4 L259.4 419.9 L262.5 418.8 L264.5 413.1 L266.5 407.1 L268.5 401.0 L270.5 394.4 L272.5 387.3 L274.5 379.9 L276.5 372.5 L278.5 365.4 L280.5 358.6 L282.5 352.1 L284.5 345.9 L286.5 339.8 L288.5 333.8 L290.5 327.8 L292.5 321.9 L294.5 316.1 L296.5 310.4 L298.5 305.0 L300.5 299.8 L302.5 294.9 L304.5 290.3 L306.5 286.0 L308.5 282.2 L310.5 278.8 L312.5 275.7 L314.5 273.0 L316.5 270.5 L318.5 268.0 L320.5 265.6 L322.5 263.0 L324.5 260.4 L326.5 257.6 L328.5 254.6 L330.5 251.5 L332.5 248.2 L334.5 244.6 L336.5 240.9 L338.5 237.2 L340.5 233.5 L342.5 229.9 L344.5 226.5 L346.5 223.3 L348.5 220.2 L350.5 217.5 L352.5 215.0 L354.5 212.7 L356.5 210.8 L358.5 209.2 L360.5 207.9 L362.5 206.7 L364.5 205.6 L366.5 204.6 L368.5 203.6 L370.5 202.6 L372.5 201.6 L374.5 200.5 L376.5 199.4 L378.5 198.3 L380.5 197.0 L382.5 195.7 L384.5 194.3 L386.5 192.8 L388.5 191.1 L390.5 189.3 L392.5 187.5 L394.5 185.6 L396.5 183.7 L398.5 181.8 L400.5 180.0 L402.5 178.2 L404.5 176.6 L406.5 175.2 L408.5 173.9 L410.5 173.0 L412.5 172.3 L414.5 171.8 L416.5 171.5 L418.5 171.4 L420.5 171.3 L422.5 171.2 L424.5 171.0 L426.5 170.6 L428.5 170.0 L430.5 169.2 L432.5 168.2 L434.5 167.1 L436.5 165.9 L438.5 164.7 L440.5 163.6 L442.5 162.5 L444.5 161.6 L446.5 160.8 L448.5 160.1 L450.5 159.7 L452.5 159.4 L454.5 159.4 L456.5 159.4 L458.5 159.4 L460.5 159.4 L462.5 159.4 L464.5 159.4 L466.5 159.4 L468.5 159.4 L470.5 159.4 L472.5 159.4 L474.5 159.3 L476.5 158.8 L478.5 158.2 L480.5 157.5 L482.5 156.9 L484.5 156.2" fill="none" stroke="#808080" stroke-width="2.35" stroke-dasharray="4.7 3.6" stroke-linecap="butt" stroke-linejoin="round" clip-path="url(#ca)" stroke-dashoffset="1.5"/>
<path d="M117.4 291.8 L119.4 291.8 L121.4 291.8 L123.4 291.8 L125.4 291.8 L127.4 291.8 L129.4 291.8 L131.4 291.8 L133.4 291.8 L135.4 291.8 L137.4 291.8 L139.4 291.8 L141.4 291.8 L143.4 292.0 L145.4 292.5 L147.4 293.4 L149.4 294.9 L151.4 296.8 L153.4 299.1 L155.4 301.3 L157.4 303.3 L159.4 305.0 L161.4 306.6 L163.4 307.9 L165.4 308.9 L167.4 309.7 L169.4 310.2 L171.4 310.6 L173.4 311.0 L175.4 311.3 L177.4 311.7 L179.4 312.2 L181.4 312.8 L183.4 313.6 L185.4 314.3 L187.4 315.0 L189.4 315.8 L191.4 317.0 L193.4 318.7 L195.4 320.9 L197.4 323.4 L199.4 326.2 L201.4 329.2 L203.4 332.3 L205.4 335.4 L207.4 338.5 L209.4 341.5 L211.4 344.3 L213.4 346.9 L215.4 349.2 L217.4 351.2 L219.4 353.1 L221.4 355.1 L223.4 357.1 L225.4 359.1 L227.4 361.4 L229.4 363.9 L231.4 366.9 L233.4 370.9 L235.4 375.4 L237.4 379.2 L239.4 382.4 L241.4 385.7 L243.4 389.8 L245.4 393.9 L247.4 397.7 L249.4 401.4 L251.4 405.1 L253.4 408.8 L255.4 412.6 L257.4 416.5 L259.4 421.2 L262.5 419.3 L264.5 414.8 L266.5 410.2 L268.5 405.4 L270.5 400.4 L272.5 394.9 L274.5 389.1 L276.5 383.1 L278.5 377.0 L280.5 371.1 L282.5 365.1 L284.5 359.1 L286.5 352.9 L288.5 346.7 L290.5 340.4 L292.5 334.1 L294.5 327.9 L296.5 321.8 L298.5 316.0 L300.5 310.3 L302.5 305.2 L304.5 300.5 L306.5 296.0 L308.5 291.8 L310.5 287.9 L312.5 284.3 L314.5 280.8 L316.5 277.3 L318.5 274.0 L320.5 270.6 L322.5 267.1 L324.5 263.7 L326.5 260.2 L328.5 256.8 L330.5 253.3 L332.5 249.8 L334.5 246.3 L336.5 242.7 L338.5 239.1 L340.5 235.5 L342.5 232.0 L344.5 228.6 L346.5 225.2 L348.5 222.0 L350.5 219.1 L352.5 216.4 L354.5 214.1 L356.5 212.1 L358.5 210.6 L360.5 209.4 L362.5 208.6 L364.5 207.8 L366.5 207.2 L368.5 206.6 L370.5 205.8 L372.5 204.9 L374.5 203.9 L376.5 202.6 L378.5 201.0 L380.5 199.3 L382.5 197.5 L384.5 195.5 L386.5 193.4 L388.5 191.3 L390.5 189.2 L392.5 187.1 L394.5 185.2 L396.5 183.3 L398.5 181.4 L400.5 179.6 L402.5 177.7 L404.5 175.8 L406.5 174.0 L408.5 172.1 L410.5 170.3 L412.5 168.6 L414.5 167.0 L416.5 165.6 L418.5 164.3 L420.5 163.2 L422.5 162.1 L424.5 161.0 L426.5 159.8 L428.5 158.4 L430.5 156.9 L432.5 155.2 L434.5 153.4 L436.5 151.4 L438.5 149.3 L440.5 147.1 L442.5 145.0 L444.5 143.0 L446.5 141.2 L448.5 139.7 L450.5 138.5 L452.5 137.7 L454.5 137.3 L456.5 137.3 L458.5 137.3 L460.5 137.3 L462.5 137.3 L464.5 137.3 L466.5 137.3 L468.5 137.3 L470.5 137.3 L472.5 137.3 L474.5 137.3 L476.5 137.3 L478.5 137.3 L480.5 137.3 L482.5 137.3 L484.5 137.3" fill="none" stroke="#808080" stroke-width="2.35" stroke-dasharray="4.7 3.6" stroke-linecap="butt" stroke-linejoin="round" clip-path="url(#ca)" stroke-dashoffset="1.3"/>
<path d="M117.4 297.2 L119.4 297.2 L121.4 297.2 L123.4 297.2 L125.4 297.2 L127.4 297.3 L129.4 297.6 L131.4 298.2 L133.4 299.1 L135.4 300.4 L137.4 301.9 L139.4 303.0 L141.4 303.0 L143.4 303.0 L145.4 303.0 L147.4 303.0 L149.4 303.0 L151.4 303.0 L153.4 303.0 L155.4 303.0 L157.4 303.0 L159.4 303.0 L161.4 303.0 L163.4 303.0 L165.4 303.0 L167.4 303.0 L169.4 303.0 L171.4 303.2 L173.4 304.0 L175.4 305.2 L177.4 306.7 L179.4 308.5 L181.4 310.3 L183.4 312.1 L185.4 313.5 L187.4 314.5 L189.4 315.2 L191.4 315.8 L193.4 316.4 L195.4 317.1 L197.4 317.7 L199.4 318.4 L201.4 319.0 L203.4 319.8 L205.4 320.7 L207.4 322.0 L209.4 323.6 L211.4 325.5 L213.4 327.4 L215.4 329.5 L217.4 331.8 L219.4 334.3 L221.4 337.1 L223.4 340.0 L225.4 342.9 L227.4 345.7 L229.4 348.8 L231.4 352.2 L233.4 356.9 L235.4 362.2 L237.4 366.2 L239.4 368.9 L241.4 371.9 L243.4 376.2 L245.4 380.9 L247.4 385.4 L249.4 390.0 L251.4 394.9 L253.4 399.9 L255.4 405.3 L257.4 411.0 L259.4 418.7 L262.5 418.7 L264.5 413.4 L266.5 407.5 L268.5 401.4 L270.5 394.9 L272.5 387.9 L274.5 380.7 L276.5 373.5 L278.5 366.6 L280.5 360.2 L282.5 354.0 L284.5 348.1 L286.5 342.4 L288.5 336.9 L290.5 331.5 L292.5 326.1 L294.5 320.9 L296.5 315.7 L298.5 310.7 L300.5 305.8 L302.5 300.6 L304.5 295.4 L306.5 290.2 L308.5 285.2 L310.5 280.2 L312.5 275.4 L314.5 270.6 L316.5 265.8 L318.5 260.9 L320.5 256.1 L322.5 251.2 L324.5 246.3 L326.5 241.6 L328.5 237.1 L330.5 232.8 L332.5 228.9 L334.5 225.3 L336.5 222.1 L338.5 219.1 L340.5 216.5 L342.5 214.3 L344.5 212.2 L346.5 210.3 L348.5 208.5 L350.5 206.6 L352.5 204.7 L354.5 202.8 L356.5 200.8 L358.5 198.8 L360.5 196.8 L362.5 194.8 L364.5 192.8 L366.5 190.8 L368.5 189.0 L370.5 187.3 L372.5 185.9 L374.5 184.7 L376.5 183.7 L378.5 183.1 L380.5 182.6 L382.5 182.4 L384.5 182.2 L386.5 182.2 L388.5 182.2 L390.5 182.2 L392.5 182.1 L394.5 182.1 L396.5 181.9 L398.5 181.7 L400.5 181.3 L402.5 180.7 L404.5 179.9 L406.5 179.0 L408.5 177.8 L410.5 176.6 L412.5 175.1 L414.5 173.5 L416.5 171.8 L418.5 170.0 L420.5 168.2 L422.5 166.4 L424.5 164.5 L426.5 162.7 L428.5 161.1 L430.5 159.5 L432.5 158.2 L434.5 157.2 L436.5 156.4 L438.5 155.8 L440.5 155.5 L442.5 155.2 L444.5 155.0 L446.5 154.7 L448.5 154.4 L450.5 153.9 L452.5 153.2 L454.5 152.3 L456.5 151.1 L458.5 149.5 L460.5 147.9 L462.5 146.3 L464.5 144.8 L466.5 143.5 L468.5 142.4 L470.5 141.6 L472.5 141.0 L474.5 140.8 L476.5 140.8 L478.5 140.8 L480.5 140.8 L482.5 140.8 L484.5 140.8" fill="none" stroke="#808080" stroke-width="2.35" stroke-dasharray="4.7 3.6" stroke-linecap="butt" stroke-linejoin="round" clip-path="url(#ca)" stroke-dashoffset="2.0"/>
<path d="M117.4 296.4 L119.4 296.4 L121.4 296.4 L123.4 296.4 L125.4 296.4 L127.4 296.4 L129.4 296.4 L131.4 296.4 L133.4 296.4 L135.4 296.4 L137.4 296.4 L139.4 296.4 L141.4 296.4 L143.4 296.4 L145.4 296.4 L147.4 296.4 L149.4 296.4 L151.4 296.4 L153.4 296.6 L155.4 297.0 L157.4 297.6 L159.4 298.5 L161.4 299.8 L163.4 301.3 L165.4 303.1 L167.4 305.1 L169.4 307.2 L171.4 309.4 L173.4 311.8 L175.4 314.1 L177.4 316.3 L179.4 318.3 L181.4 320.1 L183.4 321.6 L185.4 322.8 L187.4 323.5 L189.4 324.0 L191.4 324.6 L193.4 325.3 L195.4 326.1 L197.4 327.0 L199.4 328.0 L201.4 329.1 L203.4 330.3 L205.4 331.6 L207.4 333.1 L209.4 334.9 L211.4 336.8 L213.4 338.7 L215.4 340.6 L217.4 342.5 L219.4 344.5 L221.4 346.4 L223.4 348.0 L225.4 349.5 L227.4 351.0 L229.4 352.6 L231.4 354.6 L233.4 357.9 L235.4 362.1 L237.4 365.2 L239.4 367.2 L241.4 369.7 L243.4 373.9 L245.4 378.7 L247.4 383.4 L249.4 388.5 L251.4 393.9 L253.4 399.5 L255.4 405.4 L257.4 411.6 L259.4 419.6 L262.5 417.9 L264.5 411.9 L266.5 405.9 L268.5 399.6 L270.5 393.1 L272.5 385.9 L274.5 378.4 L276.5 370.6 L278.5 363.0 L280.5 355.5 L282.5 348.2 L284.5 340.9 L286.5 333.8 L288.5 326.7 L290.5 319.8 L292.5 313.1 L294.5 306.7 L296.5 300.6 L298.5 295.1 L300.5 289.9 L302.5 285.3 L304.5 281.0 L306.5 276.9 L308.5 273.1 L310.5 269.5 L312.5 266.1 L314.5 262.6 L316.5 259.2 L318.5 255.7 L320.5 252.1 L322.5 248.5 L324.5 244.8 L326.5 241.2 L328.5 237.6 L330.5 234.2 L332.5 231.0 L334.5 227.9 L336.5 224.9 L338.5 222.0 L340.5 219.4 L342.5 216.9 L344.5 214.6 L346.5 212.4 L348.5 210.5 L350.5 208.7 L352.5 207.1 L354.5 205.7 L356.5 204.5 L358.5 203.5 L360.5 202.7 L362.5 201.9 L364.5 201.0 L366.5 200.0 L368.5 198.8 L370.5 197.4 L372.5 195.8 L374.5 194.0 L376.5 192.0 L378.5 190.0 L380.5 187.8 L382.5 185.7 L384.5 183.7 L386.5 181.7 L388.5 179.9 L390.5 178.3 L392.5 176.8 L394.5 175.5 L396.5 174.3 L398.5 173.1 L400.5 171.9 L402.5 170.6 L404.5 169.2 L406.5 167.7 L408.5 166.1 L410.5 164.5 L412.5 162.8 L414.5 161.1 L416.5 159.4 L418.5 157.7 L420.5 156.1 L422.5 154.4 L424.5 152.7 L426.5 151.0 L428.5 149.2 L430.5 147.3 L432.5 145.5 L434.5 143.6 L436.5 141.9 L438.5 140.3 L440.5 138.9 L442.5 137.7 L444.5 136.8 L446.5 136.2 L448.5 136.0 L450.5 136.0 L452.5 136.0 L454.5 136.0 L456.5 136.0 L458.5 136.0 L460.5 136.0 L462.5 136.0 L464.5 136.0 L466.5 136.0 L468.5 136.0 L470.5 136.0 L472.5 136.0 L474.5 136.0 L476.5 136.0 L478.5 136.0 L480.5 136.0 L482.5 136.0 L484.5 136.0" fill="none" stroke="#808080" stroke-width="2.35" stroke-dasharray="4.7 3.6" stroke-linecap="butt" stroke-linejoin="round" clip-path="url(#ca)" stroke-dashoffset="2.4"/>
<path d="M117.4 301.4 L119.4 301.4 L121.4 301.4 L123.4 301.4 L125.4 301.4 L127.4 301.4 L129.4 301.4 L131.4 301.4 L133.4 301.4 L135.4 301.4 L137.4 301.4 L139.4 301.4 L141.4 301.4 L143.4 301.4 L145.4 301.5 L147.4 302.0 L149.4 303.4 L151.4 305.3 L153.4 307.5 L155.4 309.6 L157.4 311.6 L159.4 313.5 L161.4 315.2 L163.4 316.8 L165.4 318.1 L167.4 319.2 L169.4 320.0 L171.4 320.7 L173.4 321.4 L175.4 321.9 L177.4 322.4 L179.4 322.8 L181.4 323.3 L183.4 323.8 L185.4 324.4 L187.4 325.1 L189.4 325.9 L191.4 327.3 L193.4 329.0 L195.4 331.1 L197.4 333.3 L199.4 335.6 L201.4 337.8 L203.4 339.7 L205.4 341.3 L207.4 342.6 L209.4 343.7 L211.4 344.5 L213.4 345.0 L215.4 345.3 L217.4 345.6 L219.4 345.9 L221.4 346.5 L223.4 347.3 L225.4 348.4 L227.4 349.9 L229.4 351.9 L231.4 354.6 L233.4 358.8 L235.4 363.9 L237.4 367.8 L239.4 370.5 L241.4 373.6 L243.4 377.9 L245.4 382.5 L247.4 386.8 L249.4 391.3 L251.4 396.1 L253.4 401.0 L255.4 406.3 L257.4 412.0 L259.4 419.4 L262.5 417.8 L264.5 411.6 L266.5 405.4 L268.5 399.1 L270.5 392.5 L272.5 385.5 L274.5 378.1 L276.5 370.7 L278.5 363.4 L280.5 356.4 L282.5 349.4 L284.5 342.5 L286.5 335.5 L288.5 328.5 L290.5 321.3 L292.5 314.0 L294.5 306.8 L296.5 299.6 L298.5 292.6 L300.5 285.6 L302.5 279.0 L304.5 272.6 L306.5 266.5 L308.5 260.8 L310.5 255.5 L312.5 250.6 L314.5 245.9 L316.5 241.6 L318.5 237.4 L320.5 233.4 L322.5 229.5 L324.5 225.9 L326.5 222.4 L328.5 219.2 L330.5 216.2 L332.5 213.4 L334.5 210.7 L336.5 207.9 L338.5 205.1 L340.5 202.1 L342.5 199.1 L344.5 196.1 L346.5 192.9 L348.5 189.8 L350.5 186.6 L352.5 183.6 L354.5 180.9 L356.5 178.5 L358.5 176.5 L360.5 175.0 L362.5 173.8 L364.5 173.0 L366.5 172.5 L368.5 172.3 L370.5 172.1 L372.5 172.0 L374.5 171.9 L376.5 171.8 L378.5 171.6 L380.5 171.3 L382.5 170.9 L384.5 170.3 L386.5 169.5 L388.5 168.6 L390.5 167.6 L392.5 166.6 L394.5 165.4 L396.5 164.1 L398.5 162.8 L400.5 161.3 L402.5 159.6 L404.5 157.8 L406.5 155.9 L408.5 153.9 L410.5 152.1 L412.5 150.3 L414.5 148.8 L416.5 147.5 L418.5 146.6 L420.5 145.9 L422.5 145.5 L424.5 145.2 L426.5 145.1 L428.5 144.9 L430.5 144.6 L432.5 144.2 L434.5 143.5 L436.5 142.6 L438.5 141.5 L440.5 140.1 L442.5 138.5 L444.5 136.6 L446.5 134.7 L448.5 132.7 L450.5 130.8 L452.5 129.0 L454.5 127.5 L456.5 126.3 L458.5 126.2 L460.5 126.2 L462.5 126.2 L464.5 126.2 L466.5 126.2 L468.5 126.2 L470.5 126.2 L472.5 126.2 L474.5 126.2 L476.5 126.2 L478.5 126.2 L480.5 126.2 L482.5 126.2 L484.5 126.2" fill="none" stroke="#808080" stroke-width="2.35" stroke-dasharray="4.7 3.6" stroke-linecap="butt" stroke-linejoin="round" clip-path="url(#ca)" stroke-dashoffset="2.4"/>
<path d="M117.4 311.9 L119.4 311.9 L121.4 311.9 L123.4 311.9 L125.4 311.9 L127.4 311.9 L129.4 311.9 L131.4 311.9 L133.4 311.9 L135.4 311.9 L137.4 311.9 L139.4 311.9 L141.4 311.9 L143.4 311.9 L145.4 311.9 L147.4 311.9 L149.4 311.9 L151.4 311.9 L153.4 311.9 L155.4 311.9 L157.4 311.9 L159.4 311.9 L161.4 311.9 L163.4 311.9 L165.4 311.9 L167.4 311.9 L169.4 312.3 L171.4 313.1 L173.4 314.3 L175.4 315.9 L177.4 317.7 L179.4 319.6 L181.4 321.7 L183.4 323.8 L185.4 325.6 L187.4 327.2 L189.4 328.7 L191.4 330.2 L193.4 331.8 L195.4 333.3 L197.4 334.9 L199.4 336.4 L201.4 337.8 L203.4 339.2 L205.4 340.7 L207.4 342.3 L209.4 344.2 L211.4 346.3 L213.4 348.6 L215.4 351.1 L217.4 353.7 L219.4 356.6 L221.4 359.6 L223.4 362.6 L225.4 365.4 L227.4 368.0 L229.4 370.6 L231.4 373.1 L233.4 376.1 L235.4 379.2 L237.4 381.6 L239.4 383.3 L241.4 385.2 L243.4 387.9 L245.4 391.1 L247.4 394.3 L249.4 397.8 L251.4 401.7 L253.4 405.9 L255.4 410.4 L257.4 415.1 L259.4 421.1 L262.5 419.5 L264.5 414.1 L266.5 408.6 L268.5 402.9 L270.5 396.8 L272.5 390.5 L274.5 384.0 L276.5 377.6 L278.5 371.5 L280.5 365.7 L282.5 360.2 L284.5 354.8 L286.5 349.5 L288.5 344.1 L290.5 338.5 L292.5 332.7 L294.5 326.8 L296.5 320.8 L298.5 314.8 L300.5 308.7 L302.5 302.3 L304.5 296.1 L306.5 290.2 L308.5 284.5 L310.5 279.3 L312.5 274.3 L314.5 269.6 L316.5 265.1 L318.5 260.7 L320.5 256.4 L322.5 252.1 L324.5 247.9 L326.5 243.6 L328.5 239.4 L330.5 235.4 L332.5 231.4 L334.5 227.4 L336.5 223.4 L338.5 219.5 L340.5 215.7 L342.5 211.9 L344.5 208.2 L346.5 204.4 L348.5 200.6 L350.5 196.8 L352.5 193.1 L354.5 189.6 L356.5 186.2 L358.5 183.2 L360.5 180.5 L362.5 178.2 L364.5 176.3 L366.5 174.9 L368.5 173.8 L370.5 173.0 L372.5 172.6 L374.5 172.5 L376.5 172.5 L378.5 172.5 L380.5 172.5 L382.5 172.5 L384.5 172.3 L386.5 171.9 L388.5 171.1 L390.5 170.1 L392.5 169.0 L394.5 167.7 L396.5 166.3 L398.5 164.7 L400.5 163.2 L402.5 161.5 L404.5 159.8 L406.5 158.1 L408.5 156.5 L410.5 154.9 L412.5 153.4 L414.5 152.1 L416.5 151.0 L418.5 150.0 L420.5 149.2 L422.5 148.5 L424.5 147.9 L426.5 147.4 L428.5 146.9 L430.5 146.4 L432.5 145.9 L434.5 145.3 L436.5 144.6 L438.5 143.7 L440.5 142.6 L442.5 141.3 L444.5 139.6 L446.5 137.7 L448.5 135.6 L450.5 133.3 L452.5 130.9 L454.5 128.6 L456.5 126.5 L458.5 124.6 L460.5 123.1 L462.5 122.2 L464.5 121.6 L466.5 121.3 L468.5 121.3 L470.5 121.3 L472.5 121.3 L474.5 121.3 L476.5 121.3 L478.5 121.3 L480.5 121.3 L482.5 121.3 L484.5 121.3" fill="none" stroke="#808080" stroke-width="2.35" stroke-dasharray="4.7 3.6" stroke-linecap="butt" stroke-linejoin="round" clip-path="url(#ca)" stroke-dashoffset="1.3"/>
<path d="M117.4 318.5 L119.4 318.7 L121.4 319.0 L123.4 319.5 L125.4 320.1 L127.4 320.9 L129.4 321.7 L131.4 322.5 L133.4 322.6 L135.4 322.6 L137.4 322.6 L139.4 322.6 L141.4 322.6 L143.4 322.6 L145.4 322.6 L147.4 322.6 L149.4 322.6 L151.4 322.6 L153.4 322.8 L155.4 323.2 L157.4 323.7 L159.4 324.3 L161.4 325.0 L163.4 325.8 L165.4 326.5 L167.4 326.5 L169.4 326.5 L171.4 326.5 L173.4 326.5 L175.4 326.5 L177.4 326.5 L179.4 326.5 L181.4 326.5 L183.4 326.5 L185.4 326.5 L187.4 326.5 L189.4 326.5 L191.4 326.7 L193.4 327.5 L195.4 328.9 L197.4 330.8 L199.4 333.0 L201.4 335.5 L203.4 338.1 L205.4 340.8 L207.4 343.5 L209.4 346.1 L211.4 348.4 L213.4 350.6 L215.4 352.5 L217.4 354.2 L219.4 355.8 L221.4 357.5 L223.4 359.2 L225.4 361.0 L227.4 362.9 L229.4 365.1 L231.4 367.7 L233.4 371.2 L235.4 375.2 L237.4 378.5 L239.4 381.0 L241.4 383.7 L243.4 387.2 L245.4 391.0 L247.4 394.4 L249.4 398.0 L251.4 401.8 L253.4 405.8 L255.4 410.0 L257.4 414.6 L259.4 420.4 L262.5 420.4 L264.5 417.0 L266.5 412.9 L268.5 408.5 L270.5 403.7 L272.5 398.6 L274.5 393.3 L276.5 387.9 L278.5 382.8 L280.5 377.8 L282.5 373.1 L284.5 368.5 L286.5 364.0 L288.5 359.4 L290.5 354.8 L292.5 350.0 L294.5 345.1 L296.5 340.0 L298.5 334.7 L300.5 329.3 L302.5 323.4 L304.5 317.5 L306.5 311.4 L308.5 305.4 L310.5 299.5 L312.5 293.7 L314.5 288.0 L316.5 282.4 L318.5 276.8 L320.5 271.3 L322.5 265.8 L324.5 260.5 L326.5 255.3 L328.5 250.3 L330.5 245.5 L332.5 241.0 L334.5 236.7 L336.5 232.6 L338.5 228.7 L340.5 225.0 L342.5 221.4 L344.5 217.9 L346.5 214.4 L348.5 210.9 L350.5 207.3 L352.5 203.6 L354.5 199.9 L356.5 196.2 L358.5 192.6 L360.5 189.2 L362.5 186.0 L364.5 183.1 L366.5 180.4 L368.5 178.1 L370.5 176.1 L372.5 174.6 L374.5 173.4 L376.5 172.6 L378.5 172.1 L380.5 171.8 L382.5 171.6 L384.5 171.5 L386.5 171.3 L388.5 171.0 L390.5 170.6 L392.5 170.1 L394.5 169.5 L396.5 168.7 L398.5 167.7 L400.5 166.6 L402.5 165.2 L404.5 163.6 L406.5 161.8 L408.5 159.9 L410.5 157.8 L412.5 155.7 L414.5 153.6 L416.5 151.5 L418.5 149.6 L420.5 147.7 L422.5 146.1 L424.5 144.5 L426.5 143.1 L428.5 141.9 L430.5 140.9 L432.5 140.1 L434.5 139.4 L436.5 138.8 L438.5 138.3 L440.5 137.8 L442.5 137.2 L444.5 136.3 L446.5 135.2 L448.5 133.9 L450.5 132.3 L452.5 130.4 L454.5 128.4 L456.5 126.2 L458.5 124.0 L460.5 122.1 L462.5 120.5 L464.5 119.2 L466.5 118.3 L468.5 117.8 L470.5 117.6 L472.5 117.6 L474.5 117.6 L476.5 117.6 L478.5 117.6 L480.5 117.6 L482.5 117.6 L484.5 117.6" fill="none" stroke="#808080" stroke-width="2.35" stroke-dasharray="4.7 3.6" stroke-linecap="butt" stroke-linejoin="round" clip-path="url(#ca)" stroke-dashoffset="0.4"/>
<path d="M117.4 319.3 L119.4 319.3 L121.4 319.3 L123.4 319.3 L125.4 319.3 L127.4 319.3 L129.4 319.3 L131.4 319.3 L133.4 319.3 L135.4 319.3 L137.4 319.3 L139.4 319.3 L141.4 319.3 L143.4 319.3 L145.4 319.3 L147.4 319.3 L149.4 319.3 L151.4 319.3 L153.4 319.3 L155.4 319.3 L157.4 319.3 L159.4 319.3 L161.4 319.3 L163.4 319.3 L165.4 319.3 L167.4 319.3 L169.4 319.3 L171.4 319.3 L173.4 319.9 L175.4 321.0 L177.4 322.5 L179.4 324.5 L181.4 326.8 L183.4 329.1 L185.4 331.4 L187.4 333.4 L189.4 335.2 L191.4 337.0 L193.4 338.8 L195.4 340.4 L197.4 341.8 L199.4 343.1 L201.4 344.4 L203.4 345.6 L205.4 346.9 L207.4 348.4 L209.4 350.2 L211.4 352.3 L213.4 354.7 L215.4 357.3 L217.4 360.1 L219.4 363.1 L221.4 366.2 L223.4 369.4 L225.4 372.3 L227.4 375.1 L229.4 377.7 L231.4 380.2 L233.4 382.9 L235.4 385.6 L237.4 387.8 L239.4 389.6 L241.4 391.7 L243.4 394.3 L245.4 397.1 L247.4 400.1 L249.4 403.2 L251.4 406.6 L253.4 410.0 L255.4 413.7 L257.4 417.5 L259.4 422.0 L262.5 417.5 L264.5 411.0 L266.5 404.5 L268.5 397.6 L270.5 390.3 L272.5 382.3 L274.5 373.9 L276.5 365.5 L278.5 357.2 L280.5 349.3 L282.5 341.7 L284.5 334.3 L286.5 327.0 L288.5 319.8 L290.5 312.7 L292.5 305.7 L294.5 298.9 L296.5 292.3 L298.5 285.9 L300.5 279.7 L302.5 273.4 L304.5 267.4 L306.5 261.5 L308.5 255.7 L310.5 250.3 L312.5 245.0 L314.5 240.0 L316.5 235.2 L318.5 230.5 L320.5 225.8 L322.5 221.3 L324.5 216.9 L326.5 212.6 L328.5 208.6 L330.5 204.7 L332.5 201.9 L334.5 199.4 L336.5 197.2 L338.5 195.1 L340.5 193.0 L342.5 191.0 L344.5 189.1 L346.5 187.1 L348.5 185.1 L350.5 182.9 L352.5 180.8 L354.5 178.6 L356.5 176.4 L358.5 174.2 L360.5 172.0 L362.5 169.9 L364.5 167.8 L366.5 165.6 L368.5 163.4 L370.5 161.4 L372.5 159.4 L374.5 157.6 L376.5 156.0 L378.5 154.7 L380.5 153.6 L382.5 152.8 L384.5 152.2 L386.5 151.8 L388.5 151.5 L390.5 151.2 L392.5 151.0 L394.5 150.6 L396.5 150.1 L398.5 149.3 L400.5 148.3 L402.5 146.8 L404.5 145.0 L406.5 142.8 L408.5 140.4 L410.5 137.9 L412.5 135.4 L414.5 132.9 L416.5 130.5 L418.5 128.4 L420.5 126.5 L422.5 124.8 L424.5 123.4 L426.5 122.2 L428.5 121.1 L430.5 120.3 L432.5 119.6 L434.5 119.1 L436.5 118.7 L438.5 118.5 L440.5 118.5 L442.5 118.5 L444.5 118.5 L446.5 118.5 L448.5 118.5 L450.5 118.5 L452.5 118.5 L454.5 118.4 L456.5 118.1 L458.5 117.8 L460.5 117.5 L462.5 117.1 L464.5 116.6 L466.5 116.1 L468.5 115.7 L470.5 115.4 L472.5 115.2 L474.5 115.1 L476.5 115.1 L478.5 115.1 L480.5 115.1 L482.5 115.1 L484.5 115.1" fill="none" stroke="#808080" stroke-width="2.35" stroke-dasharray="4.7 3.6" stroke-linecap="butt" stroke-linejoin="round" clip-path="url(#ca)" stroke-dashoffset="0.5"/>
<path d="M117.4 334.3 L119.4 334.3 L121.4 334.3 L123.4 334.3 L125.4 334.3 L127.4 334.3 L129.4 334.3 L131.4 334.3 L133.4 334.3 L135.4 334.3 L137.4 334.3 L139.4 334.3 L141.4 334.3 L143.4 334.3 L145.4 334.3 L147.4 334.4 L149.4 335.1 L151.4 335.5 L153.4 335.5 L155.4 335.5 L157.4 335.5 L159.4 335.5 L161.4 335.5 L163.4 335.5 L165.4 335.5 L167.4 335.5 L169.4 335.5 L171.4 335.5 L173.4 335.5 L175.4 335.5 L177.4 336.0 L179.4 336.9 L181.4 338.4 L183.4 340.3 L185.4 342.6 L187.4 345.1 L189.4 348.0 L191.4 351.3 L193.4 354.8 L195.4 358.4 L197.4 361.8 L199.4 364.9 L201.4 367.2 L203.4 368.8 L205.4 370.2 L207.4 371.5 L209.4 372.8 L211.4 374.2 L213.4 375.7 L215.4 377.3 L217.4 378.6 L219.4 379.9 L221.4 381.4 L223.4 383.0 L225.4 384.9 L227.4 386.8 L229.4 388.8 L231.4 390.9 L233.4 392.8 L235.4 394.7 L237.4 396.5 L239.4 398.3 L241.4 400.1 L243.4 402.1 L245.4 404.1 L247.4 406.4 L249.4 408.7 L251.4 411.3 L253.4 414.0 L255.4 416.9 L257.4 420.0 L259.4 423.2 L262.5 419.1 L264.5 413.4 L266.5 407.6 L268.5 401.5 L270.5 395.0 L272.5 388.0 L274.5 380.6 L276.5 373.1 L278.5 365.8 L280.5 358.9 L282.5 352.2 L284.5 345.6 L286.5 339.2 L288.5 332.8 L290.5 326.5 L292.5 320.2 L294.5 314.0 L296.5 308.1 L298.5 302.4 L300.5 296.9 L302.5 291.6 L304.5 286.4 L306.5 281.5 L308.5 276.9 L310.5 272.5 L312.5 268.3 L314.5 264.2 L316.5 260.1 L318.5 255.9 L320.5 251.4 L322.5 246.7 L324.5 241.8 L326.5 236.7 L328.5 231.5 L330.5 226.3 L332.5 221.0 L334.5 215.9 L336.5 210.9 L338.5 206.0 L340.5 201.5 L342.5 197.2 L344.5 193.4 L346.5 189.8 L348.5 186.5 L350.5 183.5 L352.5 180.8 L354.5 178.2 L356.5 175.9 L358.5 173.7 L360.5 171.6 L362.5 169.6 L364.5 167.6 L366.5 165.5 L368.5 163.4 L370.5 161.3 L372.5 159.2 L374.5 157.1 L376.5 155.1 L378.5 153.1 L380.5 151.2 L382.5 149.4 L384.5 147.9 L386.5 147.1 L388.5 146.2 L390.5 145.1 L392.5 144.0 L394.5 142.7 L396.5 141.4 L398.5 139.9 L400.5 138.2 L402.5 136.4 L404.5 134.5 L406.5 132.5 L408.5 131.4 L410.5 130.4 L412.5 129.5 L414.5 128.6 L416.5 127.8 L418.5 126.8 L420.5 125.9 L422.5 124.8 L424.5 123.4 L426.5 122.0 L428.5 120.3 L430.5 118.6 L432.5 116.8 L434.5 115.1 L436.5 113.5 L438.5 112.1 L440.5 110.8 L442.5 109.8 L444.5 108.9 L446.5 108.3 L448.5 107.8 L450.5 107.6 L452.5 107.5 L454.5 107.5 L456.5 107.5 L458.5 107.5 L460.5 107.3 L462.5 107.0 L464.5 106.4 L466.5 105.7 L468.5 104.8 L470.5 103.9 L472.5 103.0 L474.5 102.0 L476.5 101.1 L478.5 100.3 L480.5 99.6 L482.5 98.9 L484.5 98.4" fill="none" stroke="#808080" stroke-width="2.35" stroke-dasharray="4.7 3.6" stroke-linecap="butt" stroke-linejoin="round" clip-path="url(#ca)" stroke-dashoffset="2.9"/>
<path d="M117.4 336.6 L119.4 336.6 L121.4 336.6 L123.4 336.6 L125.4 336.6 L127.4 336.6 L129.4 336.6 L131.4 336.6 L133.4 336.6 L135.4 336.6 L137.4 336.6 L139.4 336.6 L141.4 336.6 L143.4 336.6 L145.4 336.6 L147.4 336.6 L149.4 336.6 L151.4 336.6 L153.4 336.6 L155.4 336.8 L157.4 337.2 L159.4 338.1 L161.4 339.2 L163.4 340.7 L165.4 342.3 L167.4 344.1 L169.4 345.6 L171.4 346.0 L173.4 346.5 L175.4 347.1 L177.4 347.9 L179.4 348.7 L181.4 349.8 L183.4 350.9 L185.4 352.1 L187.4 353.5 L189.4 355.1 L191.4 357.0 L193.4 359.1 L195.4 361.3 L197.4 362.9 L199.4 363.9 L201.4 365.0 L203.4 366.1 L205.4 367.2 L207.4 368.3 L209.4 369.6 L211.4 371.0 L213.4 372.5 L215.4 374.1 L217.4 375.8 L219.4 377.5 L221.4 379.3 L223.4 381.1 L225.4 382.9 L227.4 384.6 L229.4 386.2 L231.4 387.8 L233.4 389.5 L235.4 391.3 L237.4 393.0 L239.4 394.6 L241.4 396.3 L243.4 398.5 L245.4 401.0 L247.4 403.6 L249.4 406.4 L251.4 409.3 L253.4 412.4 L255.4 415.7 L257.4 419.2 L259.4 422.9 L262.5 419.8 L264.5 415.3 L266.5 410.6 L268.5 405.9 L270.5 400.8 L272.5 395.4 L274.5 389.7 L276.5 383.9 L278.5 378.1 L280.5 372.4 L282.5 366.7 L284.5 360.9 L286.5 355.1 L288.5 349.2 L290.5 343.2 L292.5 337.2 L294.5 331.3 L296.5 325.4 L298.5 319.8 L300.5 314.2 L302.5 308.6 L304.5 303.1 L306.5 297.5 L308.5 292.0 L310.5 286.4 L312.5 280.7 L314.5 274.9 L316.5 268.8 L318.5 262.6 L320.5 256.2 L322.5 249.6 L324.5 243.1 L326.5 236.7 L328.5 230.5 L330.5 224.8 L332.5 219.5 L334.5 214.7 L336.5 210.3 L338.5 206.3 L340.5 202.7 L342.5 199.4 L344.5 196.3 L346.5 193.4 L348.5 190.5 L350.5 187.6 L352.5 184.7 L354.5 181.8 L356.5 179.0 L358.5 176.3 L360.5 173.7 L362.5 171.3 L364.5 169.0 L366.5 166.8 L368.5 164.7 L370.5 162.7 L372.5 160.8 L374.5 159.0 L376.5 157.3 L378.5 155.7 L380.5 154.2 L382.5 152.8 L384.5 151.6 L386.5 150.4 L388.5 149.4 L390.5 148.6 L392.5 148.0 L394.5 147.6 L396.5 147.2 L398.5 146.9 L400.5 146.5 L402.5 146.0 L404.5 145.1 L406.5 143.9 L408.5 142.3 L410.5 140.4 L412.5 138.3 L414.5 135.8 L416.5 133.2 L418.5 130.5 L420.5 127.7 L422.5 125.1 L424.5 122.4 L426.5 119.9 L428.5 117.5 L430.5 115.4 L432.5 113.4 L434.5 111.6 L436.5 110.1 L438.5 108.6 L440.5 107.3 L442.5 106.1 L444.5 104.8 L446.5 103.5 L448.5 102.3 L450.5 101.1 L452.5 99.9 L454.5 98.8 L456.5 97.8 L458.5 96.9 L460.5 96.1 L462.5 95.5 L464.5 94.8 L466.5 94.2 L468.5 93.7 L470.5 93.3 L472.5 92.9 L474.5 92.7 L476.5 92.6 L478.5 92.5 L480.5 92.5 L482.5 92.5 L484.5 92.5" fill="none" stroke="#808080" stroke-width="2.35" stroke-dasharray="4.7 3.6" stroke-linecap="butt" stroke-linejoin="round" clip-path="url(#ca)" stroke-dashoffset="1.3"/>
<path d="M117.4 278.5 L119.4 278.8 L121.3 279.1 L123.3 279.4 L125.3 279.7 L127.3 280.0 L129.2 280.3 L131.2 280.6 L133.2 280.9 L135.1 281.2 L137.1 281.6 L139.1 281.9 L141.1 282.3 L143.0 282.8 L145.0 283.2 L146.8 283.7 L148.6 284.2 L150.5 284.7 L152.3 285.3 L154.1 286.0 L155.9 286.7 L157.8 287.4 L159.6 288.2 L161.4 289.0 L163.3 289.9 L165.1 290.9 L167.0 292.0 L168.8 293.2 L170.7 294.4 L172.6 295.7 L174.4 297.0 L176.3 298.3 L178.1 299.7 L180.0 301.0 L182.0 302.4 L183.9 303.9 L185.9 305.5 L187.9 307.1 L189.8 308.8 L191.8 310.5 L193.8 312.3 L195.7 314.2 L197.7 316.2 L199.6 318.2 L201.6 320.3 L203.5 322.5 L205.4 324.7 L207.2 326.9 L209.1 329.3 L210.9 331.7 L212.8 334.2 L214.5 336.4 L216.1 338.8 L217.8 341.2 L219.4 343.7 L221.1 346.4 L222.7 349.3 L224.4 352.3 L226.0 355.4 L227.7 358.5 L229.3 361.7 L230.9 365.0 L232.6 368.4 L234.2 371.8 L235.9 375.2 L237.5 378.7 L239.2 382.3 L240.8 385.9 L242.4 389.6 L244.1 393.2 L245.7 396.8 L247.4 400.5 L249.0 404.2 L250.6 407.7 L252.3 411.2 L253.7 414.0 L255.0 416.8 L256.4 419.3 L257.8 421.3 L259.1 423.2 L260.5 425.1 L264.6 419.4 L266.2 416.0 L267.9 412.6 L269.5 409.2 L271.2 405.7 L272.8 402.1 L274.5 398.3 L276.1 394.4 L277.7 390.4 L279.4 386.3 L281.0 382.3 L282.8 377.9 L284.5 373.5 L286.3 369.0 L288.1 364.5 L289.8 360.1 L291.6 355.7 L293.3 351.5 L295.2 347.1 L297.1 342.9 L299.0 338.7 L300.9 334.6 L302.8 330.5 L304.6 326.3 L306.5 322.0 L308.4 317.6 L310.1 313.4 L311.8 308.9 L313.5 304.4 L315.2 299.8 L316.9 295.4 L318.6 291.3 L320.4 287.2 L322.1 283.3 L323.9 279.5 L325.6 275.9 L327.4 272.3 L329.1 268.9 L330.8 265.6 L332.5 262.4 L334.2 259.3 L335.9 256.3 L337.6 253.4 L339.4 250.6 L341.1 248.0 L342.9 245.5 L344.7 243.0 L346.5 240.5 L348.2 238.1 L350.0 235.5 L351.7 232.9 L353.4 230.3 L355.0 227.7 L356.7 225.1 L358.4 222.8 L360.1 220.7 L361.8 218.7 L363.5 216.7 L365.2 214.9 L366.8 213.2 L368.5 211.5 L370.1 209.8 L371.8 208.3 L373.4 206.7 L375.3 204.9 L377.1 203.2 L379.0 201.5 L380.8 199.9 L382.7 198.5 L384.3 197.4 L386.0 196.3 L387.6 195.3 L389.3 194.3 L390.9 193.3 L392.5 192.2 L394.1 191.1 L395.8 190.0 L397.4 189.0 L399.0 188.0 L400.9 187.0 L402.8 186.1 L404.6 185.2 L406.5 184.3 L408.4 183.4 L410.3 182.4 L412.1 181.5 L414.0 180.5 L415.8 179.6 L417.7 178.7 L419.5 178.0 L421.2 177.3 L423.0 176.6 L424.7 176.0 L426.5 175.3 L428.2 174.7 L430.0 174.0 L431.7 173.3 L433.5 172.6 L435.2 171.8 L436.9 171.1 L438.7 170.3 L440.4 169.5 L442.1 168.7 L443.8 167.8 L445.5 167.0 L447.3 166.1 L449.0 165.3 L450.7 164.6 L452.4 164.0 L454.1 163.4 L455.8 162.8 L457.5 162.3 L459.2 161.8 L460.9 161.3 L462.6 160.8 L464.3 160.4 L466.0 159.9 L467.7 159.5 L469.4 159.1 L471.1 158.8 L472.8 158.5 L474.5 158.2 L476.2 157.9 L477.9 157.7 L479.6 157.4 L481.3 157.2 L483.0 157.0 L484.6 156.9 L486.3 156.7" fill="none" stroke="#808080" stroke-width="4.70" stroke-linecap="butt" stroke-linejoin="round" clip-path="url(#ca)"/>
<path d="M117.4 335.6 L119.4 336.0 L121.4 336.4 L123.3 336.8 L125.3 337.2 L127.3 337.5 L129.3 337.9 L131.3 338.3 L133.3 338.7 L135.2 339.1 L137.2 339.5 L139.2 339.9 L141.1 340.3 L143.1 340.6 L145.0 341.0 L147.0 341.4 L148.9 341.7 L150.9 342.1 L152.8 342.5 L154.8 342.9 L156.7 343.3 L158.7 343.7 L160.6 344.1 L162.6 344.6 L164.5 345.1 L166.5 345.7 L168.4 346.3 L170.2 346.9 L172.1 347.6 L173.9 348.4 L175.7 349.3 L177.5 350.3 L179.3 351.2 L181.2 352.3 L183.0 353.3 L184.8 354.3 L186.7 355.5 L188.5 356.6 L190.3 357.9 L192.1 359.1 L193.9 360.4 L195.8 361.8 L197.6 363.1 L199.4 364.4 L201.1 365.8 L202.9 367.2 L204.7 368.6 L206.5 370.1 L208.2 371.6 L210.0 373.2 L211.8 375.0 L213.7 376.9 L215.5 378.9 L217.4 380.9 L219.2 382.9 L221.0 384.8 L222.8 386.7 L224.7 388.6 L226.5 390.6 L228.3 392.5 L230.2 394.4 L232.0 396.4 L233.8 398.3 L235.6 400.2 L237.5 402.2 L239.3 404.1 L241.1 406.1 L242.9 408.0 L244.8 409.9 L246.6 411.8 L248.4 413.7 L250.2 415.4 L251.9 417.2 L253.7 418.9 L255.5 420.6 L257.3 422.2 L259.0 423.9 L260.8 425.5 L262.5 423.6 L265.5 420.0 L268.5 416.3 L271.5 412.3 L274.5 408.1 L277.5 403.7 L280.5 399.2 L283.5 394.6 L286.5 390.1 L289.5 385.5 L292.5 380.6 L295.5 375.5 L298.5 370.3 L301.5 364.9 L304.5 359.4 L307.5 353.6 L310.5 347.6 L313.5 341.3 L316.5 334.8 L319.5 328.2 L322.5 321.2 L325.5 314.1 L328.5 307.2 L331.5 300.5 L334.5 293.8 L337.5 287.0 L340.5 279.9 L343.5 272.8 L346.5 265.9 L349.5 259.6 L352.5 253.6 L355.5 247.4 L358.5 240.9 L359.9 237.8 L361.3 235.3 L362.8 232.9 L364.2 230.5 L366.1 227.6 L368.1 224.8 L370.0 221.8 L372.0 218.5 L373.9 215.1 L375.9 211.5 L377.7 208.0 L379.5 204.3 L381.4 200.6 L383.2 196.9 L384.7 194.0 L386.1 191.1 L387.6 188.2 L389.5 184.3 L391.5 180.4 L393.4 176.5 L395.0 173.2 L396.7 170.0 L398.3 167.3 L399.8 164.9 L401.4 162.4 L403.3 159.2 L405.3 156.1 L407.2 153.1 L409.2 150.3 L411.1 147.7 L413.1 144.9 L414.9 141.8 L416.6 139.0 L418.5 137.3 L420.5 135.9 L422.4 134.4 L424.3 132.2 L426.3 129.7 L428.2 127.4 L430.0 125.4 L431.9 123.5 L433.7 121.7 L435.6 120.0 L437.4 118.5 L439.0 117.3 L440.6 116.3 L442.3 115.3 L443.9 114.3 L445.5 113.4 L447.1 112.5 L448.8 111.7 L450.4 110.9 L452.1 110.1 L453.7 109.3 L455.5 108.3 L457.3 107.3 L459.1 106.3 L460.9 105.2 L462.7 103.9 L464.4 102.3 L466.2 100.9 L468.0 100.0 L469.8 99.5 L471.6 99.1 L473.4 98.8 L475.2 98.5 L476.8 98.2 L478.5 97.9 L480.1 97.6 L481.8 97.3 L483.4 97.0 L484.9 96.8 L486.3 96.6" fill="none" stroke="#e41a1c" stroke-width="2.35" stroke-dasharray="4.7 3.6" stroke-linecap="butt" stroke-linejoin="round" clip-path="url(#ca)"/>
<path d="M117.4 339.1 L119.4 339.4 L121.4 339.8 L123.3 340.1 L125.3 340.5 L127.3 340.8 L129.3 341.2 L131.3 341.6 L133.3 341.9 L135.2 342.3 L137.2 342.7 L139.2 343.0 L141.1 343.4 L143.1 343.8 L145.0 344.1 L147.0 344.5 L148.9 344.8 L150.9 345.2 L152.8 345.5 L154.8 345.9 L156.7 346.3 L158.7 346.7 L160.6 347.1 L162.6 347.6 L164.5 348.0 L166.5 348.6 L168.4 349.1 L170.2 349.7 L172.1 350.4 L173.9 351.2 L175.7 352.0 L177.5 352.9 L179.3 353.8 L181.2 354.8 L183.0 355.8 L184.8 356.8 L186.7 357.8 L188.5 359.0 L190.3 360.1 L192.1 361.3 L193.9 362.6 L195.8 363.8 L197.6 365.1 L199.4 366.4 L201.1 367.7 L202.9 369.0 L204.7 370.4 L206.5 371.8 L208.2 373.3 L210.0 374.8 L211.8 376.5 L213.7 378.3 L215.5 380.2 L217.4 382.1 L219.2 384.0 L221.0 385.9 L222.8 387.7 L224.7 389.6 L226.5 391.4 L228.3 393.3 L230.2 395.2 L232.0 397.0 L233.8 398.9 L235.6 400.8 L237.5 402.7 L239.3 404.6 L241.1 406.5 L242.9 408.3 L244.8 410.2 L246.6 412.1 L248.4 413.9 L250.2 415.6 L251.9 417.3 L253.7 419.0 L255.5 420.6 L257.3 422.3 L259.0 423.9 L260.8 425.5 L262.5 423.7 L265.5 420.2 L268.5 416.5 L271.5 412.6 L274.5 408.6 L277.5 404.3 L280.5 399.8 L283.5 395.4 L286.5 391.0 L289.5 386.4 L292.5 381.7 L295.5 376.8 L298.5 371.8 L301.5 366.5 L304.5 361.2 L307.5 355.6 L310.5 349.7 L313.5 343.7 L316.5 337.5 L319.5 331.0 L322.5 324.3 L325.5 317.4 L328.5 310.6 L331.5 303.9 L334.5 297.4 L337.5 290.8 L340.5 284.0 L343.5 277.0 L346.5 270.1 L349.5 263.6 L352.5 257.6 L355.5 251.6 L358.5 245.6 L361.5 239.1 L362.0 238.0 L363.7 235.0 L365.3 232.0 L367.0 229.0 L369.0 225.6 L371.0 222.4 L373.0 219.0 L375.0 215.4 L377.0 211.7 L379.0 208.0 L380.8 204.8 L382.5 201.6 L384.2 198.3 L386.0 195.0 L387.7 191.7 L389.3 188.4 L391.0 185.0 L393.0 180.9 L395.0 176.9 L397.0 173.0 L398.7 170.0 L400.3 167.2 L402.0 164.4 L404.0 161.1 L406.0 158.0 L408.0 155.0 L410.0 152.2 L412.0 149.5 L414.0 147.0 L416.0 144.6 L418.0 142.3 L420.0 140.0 L422.0 137.7 L423.9 135.5 L425.9 133.2 L427.7 131.1 L429.4 129.0 L431.2 126.9 L433.0 125.0 L435.0 123.1 L437.0 121.2 L439.0 119.5 L441.0 118.0 L443.0 116.6 L445.0 115.3 L447.0 114.1 L449.0 113.0 L451.0 111.9 L453.0 110.9 L455.0 109.9 L457.0 109.0 L459.0 108.1 L461.0 107.2 L463.0 106.5 L465.0 106.0 L466.6 105.8 L468.2 105.7 L469.9 105.5 L471.5 105.4 L473.1 105.2 L474.7 104.8 L476.4 104.2 L478.0 103.6 L479.7 103.0 L481.3 102.6 L483.0 102.4 L484.6 102.2 L486.3 102.0" fill="none" stroke="#e41a1c" stroke-width="2.35" stroke-dasharray="4.7 3.6" stroke-linecap="butt" stroke-linejoin="round" clip-path="url(#ca)"/>
<path d="M117.4 350.4 L119.4 350.7 L121.4 351.0 L123.3 351.3 L125.3 351.6 L127.3 351.9 L129.3 352.2 L131.3 352.5 L133.3 352.7 L135.2 353.0 L137.2 353.3 L139.2 353.7 L141.1 354.0 L143.1 354.2 L145.0 354.5 L147.0 354.8 L148.9 355.1 L150.9 355.4 L152.8 355.7 L154.8 356.0 L156.7 356.3 L158.7 356.6 L160.6 357.0 L162.6 357.3 L164.5 357.7 L166.5 358.1 L168.4 358.6 L170.2 359.1 L172.1 359.6 L173.9 360.3 L175.7 361.0 L177.5 361.7 L179.3 362.5 L181.2 363.3 L183.0 364.0 L184.8 364.9 L186.7 365.8 L188.5 366.7 L190.3 367.7 L192.1 368.7 L193.9 369.7 L195.8 370.8 L197.6 371.8 L199.4 372.9 L201.1 374.0 L202.9 375.1 L204.7 376.2 L206.5 377.4 L208.2 378.7 L210.0 380.0 L211.8 381.4 L213.7 383.0 L215.5 384.6 L217.4 386.2 L219.2 387.9 L221.0 389.5 L222.8 391.1 L224.7 392.7 L226.5 394.3 L228.3 396.0 L230.2 397.6 L232.0 399.2 L233.8 400.9 L235.6 402.6 L237.5 404.3 L239.3 406.0 L241.1 407.7 L242.9 409.4 L244.8 411.1 L246.6 412.8 L248.4 414.5 L250.2 416.1 L251.9 417.7 L253.7 419.3 L255.5 420.9 L257.3 422.5 L259.0 424.0 L260.8 425.6 L262.7 423.2 L264.6 420.8 L266.5 418.4 L268.1 416.2 L269.8 413.9 L271.4 411.5 L273.0 409.1 L274.9 406.3 L276.8 403.3 L278.6 400.3 L280.5 397.2 L282.2 394.5 L283.9 391.8 L285.6 389.0 L287.3 386.2 L289.0 383.3 L290.8 380.1 L292.7 376.8 L294.5 373.5 L296.3 370.0 L298.2 366.5 L300.0 363.0 L301.6 359.7 L303.2 356.4 L304.9 353.0 L306.5 349.6 L308.2 345.9 L309.8 342.2 L311.5 338.5 L313.1 334.6 L314.8 330.7 L316.5 326.6 L318.2 322.4 L319.9 318.1 L321.6 313.9 L323.3 309.7 L325.0 305.6 L326.7 301.6 L328.4 297.5 L330.1 293.5 L331.8 289.4 L333.5 285.1 L335.3 280.7 L337.0 276.2 L338.8 271.9 L340.5 267.7 L342.4 263.4 L344.3 259.2 L346.2 255.2 L348.1 251.1 L350.0 246.8 L351.9 242.4 L353.8 238.0 L355.6 233.4 L357.5 228.8 L359.4 224.3 L361.3 219.8 L363.1 215.7 L364.8 211.5 L366.6 207.4 L368.3 203.4 L370.1 199.5 L371.8 195.7 L373.6 191.9 L375.3 188.2 L377.1 184.7 L378.8 181.2 L380.5 178.1 L382.2 175.2 L383.9 171.9 L385.6 167.6 L387.4 162.8 L389.1 157.9 L390.9 153.9 L392.5 150.9 L394.1 148.3 L395.8 146.0 L397.4 143.6 L399.0 141.1 L400.8 138.2 L402.5 135.2 L404.2 132.3 L406.0 129.6 L408.0 126.6 L409.9 123.8 L411.9 121.4 L413.8 119.7 L415.8 118.2 L417.7 116.8 L419.4 115.3 L421.2 113.8 L422.9 112.4 L424.7 111.0 L426.5 109.9 L428.2 108.8 L430.0 107.5 L431.8 105.7 L433.5 103.6 L435.3 101.9 L437.0 100.7 L438.7 99.7 L440.4 98.8 L442.1 98.0 L443.8 97.2 L445.5 96.3 L447.2 95.4 L448.9 94.5 L450.6 93.5 L452.4 92.7 L454.1 91.9 L455.8 91.3 L457.5 90.7 L459.2 90.3 L460.9 89.9 L462.6 89.5 L464.3 89.2 L466.0 88.8 L467.7 88.3 L469.4 87.9 L471.1 87.4 L472.8 87.0 L474.5 86.6 L476.2 86.4 L477.9 86.2 L479.6 86.1 L481.2 86.0 L482.9 85.9 L484.6 85.8 L486.3 85.7" fill="none" stroke="#e41a1c" stroke-width="2.35" stroke-dasharray="4.7 3.6" stroke-linecap="butt" stroke-linejoin="round" clip-path="url(#ca)"/>
<path d="M117.4 362.9 L119.4 363.2 L121.4 363.4 L123.3 363.6 L125.3 363.8 L127.3 364.0 L129.3 364.2 L131.3 364.4 L133.3 364.7 L135.2 364.9 L137.2 365.1 L139.2 365.3 L141.1 365.6 L143.1 365.8 L145.0 366.0 L147.0 366.2 L148.9 366.4 L150.9 366.6 L152.8 366.8 L154.8 367.0 L156.7 367.3 L158.7 367.5 L160.6 367.8 L162.6 368.1 L164.5 368.4 L166.5 368.7 L168.4 369.0 L170.2 369.4 L172.1 369.8 L173.9 370.3 L175.7 370.8 L177.5 371.4 L179.3 372.0 L181.2 372.6 L183.0 373.2 L184.8 373.8 L186.7 374.5 L188.5 375.2 L190.3 375.9 L192.1 376.7 L193.9 377.5 L195.8 378.4 L197.6 379.2 L199.4 380.0 L201.1 380.9 L202.9 381.8 L204.7 382.7 L206.5 383.6 L208.2 384.6 L210.0 385.7 L211.8 386.8 L213.7 388.1 L215.5 389.4 L217.4 390.8 L219.2 392.1 L221.0 393.4 L222.8 394.8 L224.7 396.1 L226.5 397.5 L228.3 398.9 L230.2 400.3 L232.0 401.7 L233.8 403.1 L235.6 404.6 L237.5 406.1 L239.3 407.6 L241.1 409.1 L242.9 410.6 L244.8 412.2 L246.6 413.7 L248.4 415.2 L250.2 416.7 L251.9 418.2 L253.7 419.7 L255.5 421.1 L257.3 422.6 L259.0 424.1 L260.8 425.6 L262.5 423.1 L265.5 418.8 L268.5 414.2 L271.5 409.3 L274.5 404.0 L277.5 398.5 L280.5 393.1 L283.5 387.6 L286.5 381.9 L289.5 375.8 L292.5 369.5 L295.5 363.0 L298.5 356.2 L301.5 349.1 L304.5 341.6 L307.5 333.8 L310.5 325.7 L313.5 317.3 L316.5 308.9 L319.5 300.8 L322.5 292.8 L325.5 284.5 L328.5 275.9 L331.5 267.5 L334.5 259.8 L337.5 252.6 L340.5 245.1 L343.5 237.1 L346.5 228.9 L349.5 220.8 L352.5 212.8 L355.5 204.9 L358.5 197.2 L359.0 196.0 L360.7 190.9 L362.3 185.9 L364.0 181.0 L365.9 175.6 L367.9 170.7 L369.4 167.7 L371.0 164.8 L372.6 161.5 L374.3 158.2 L375.9 154.8 L377.6 151.5 L379.2 148.4 L380.8 145.6 L382.3 143.0 L383.9 140.2 L385.6 136.7 L387.4 133.2 L389.1 129.9 L390.9 126.6 L392.6 123.5 L394.4 120.4 L396.3 116.9 L398.3 113.6 L400.2 111.0 L402.2 109.2 L404.1 107.8 L406.1 106.4 L408.0 104.8 L410.0 103.2 L411.9 101.7 L413.6 100.4 L415.4 99.3 L417.1 98.1 L418.9 97.0 L420.6 96.0 L422.4 95.1 L424.1 94.1 L425.9 92.9 L427.3 91.4 L428.8 89.7 L430.2 88.3 L431.8 87.4 L433.5 86.7 L435.1 86.0 L436.8 85.4 L438.4 84.7 L440.2 83.8 L441.9 82.7 L443.7 81.7 L445.5 80.7 L447.1 79.8 L448.8 78.8 L450.4 78.0 L452.1 77.2 L453.7 76.8 L455.5 76.6 L457.3 76.4 L459.1 76.3 L460.9 76.1 L462.5 75.8 L464.1 75.5 L465.8 75.1 L467.4 74.8 L469.0 74.5 L470.6 74.3 L472.3 74.1 L473.9 73.9 L475.6 73.7 L477.2 73.7 L479.0 73.7 L480.8 73.7 L482.7 73.7 L484.5 73.7 L486.3 73.7" fill="none" stroke="#e41a1c" stroke-width="2.35" stroke-dasharray="4.7 3.6" stroke-linecap="butt" stroke-linejoin="round" clip-path="url(#ca)"/>
<path d="M117.4 371.5 L119.4 371.6 L121.4 371.8 L123.3 372.0 L125.3 372.1 L127.3 372.3 L129.3 372.4 L131.3 372.6 L133.3 372.8 L135.2 372.9 L137.2 373.1 L139.2 373.3 L141.1 373.5 L143.1 373.6 L145.0 373.8 L147.0 373.9 L148.9 374.1 L150.9 374.3 L152.8 374.4 L154.8 374.6 L156.7 374.8 L158.7 375.0 L160.6 375.2 L162.6 375.4 L164.5 375.6 L166.5 375.9 L168.4 376.1 L170.2 376.4 L172.1 376.7 L173.9 377.1 L175.7 377.5 L177.5 378.0 L179.3 378.4 L181.2 378.9 L183.0 379.4 L184.8 379.9 L186.7 380.4 L188.5 381.0 L190.3 381.6 L192.1 382.2 L193.9 382.9 L195.8 383.5 L197.6 384.2 L199.4 384.9 L201.1 385.6 L202.9 386.3 L204.7 387.1 L206.5 387.9 L208.2 388.7 L210.0 389.5 L211.8 390.5 L213.7 391.6 L215.5 392.7 L217.4 393.8 L219.2 395.0 L221.0 396.1 L222.8 397.3 L224.7 398.5 L226.5 399.7 L228.3 400.9 L230.2 402.1 L232.0 403.4 L233.8 404.6 L235.6 405.9 L237.5 407.3 L239.3 408.6 L241.1 410.0 L242.9 411.4 L244.8 412.9 L246.6 414.3 L248.4 415.7 L250.2 417.1 L251.9 418.5 L253.7 419.9 L255.5 421.3 L257.3 422.7 L259.0 424.2 L260.8 425.7 L262.5 423.4 L265.5 419.4 L268.5 415.2 L271.5 410.7 L274.5 406.0 L277.5 401.1 L280.5 396.0 L283.5 391.1 L286.5 386.0 L289.5 380.6 L292.5 375.0 L295.5 369.2 L298.5 363.2 L301.5 357.0 L304.5 350.5 L307.5 343.7 L310.5 336.6 L313.5 329.3 L316.5 321.7 L319.5 313.9 L322.5 306.3 L325.5 298.9 L328.5 291.5 L331.5 283.9 L334.5 276.0 L337.5 268.2 L340.5 261.1 L343.5 254.4 L346.5 247.6 L349.5 240.5 L352.5 233.0 L355.5 225.5 L358.5 218.1 L361.5 210.7 L364.5 203.5 L366.0 200.0 L367.8 196.0 L369.6 192.0 L371.4 188.0 L373.2 184.0 L375.0 180.0 L376.8 176.0 L378.6 171.9 L380.4 167.8 L382.2 163.9 L384.0 160.0 L385.8 156.4 L387.5 152.8 L389.2 149.4 L391.0 146.0 L392.9 142.4 L394.8 138.9 L396.7 135.5 L398.3 132.6 L399.8 129.8 L401.4 127.4 L403.0 125.5 L404.5 123.9 L406.1 122.1 L407.6 119.7 L409.2 117.1 L410.7 115.1 L412.4 113.8 L414.2 112.8 L415.9 112.0 L417.7 111.0 L419.4 109.9 L421.2 108.8 L422.9 107.7 L424.7 106.4 L426.5 104.9 L428.2 103.0 L430.0 101.1 L431.8 99.2 L433.5 97.4 L435.3 96.0 L437.1 94.9 L438.9 93.9 L440.7 93.0 L442.5 91.9 L444.0 90.8 L445.6 89.6 L447.1 88.2 L448.6 86.8 L450.3 84.9 L452.0 82.9 L453.7 81.2 L455.5 79.7 L457.3 78.4 L459.1 77.3 L460.9 76.4 L462.7 75.7 L464.4 75.2 L466.2 74.7 L468.0 74.0 L469.8 72.9 L471.6 71.4 L473.4 69.9 L475.2 68.9 L476.8 68.4 L478.5 67.9 L480.1 67.5 L481.8 67.2 L483.4 66.9 L484.9 66.6 L486.3 66.4" fill="none" stroke="#e41a1c" stroke-width="2.35" stroke-dasharray="4.7 3.6" stroke-linecap="butt" stroke-linejoin="round" clip-path="url(#ca)"/>
<path d="M117.4 353.8 L119.4 354.1 L121.4 354.3 L123.3 354.6 L125.3 354.9 L127.3 355.1 L129.3 355.4 L131.3 355.7 L133.3 356.0 L135.2 356.2 L137.2 356.5 L139.2 356.8 L141.1 357.1 L143.1 357.3 L145.0 357.6 L147.0 357.9 L148.9 358.1 L150.9 358.4 L152.8 358.7 L154.8 358.9 L156.7 359.2 L158.7 359.5 L160.6 359.9 L162.6 360.2 L164.5 360.6 L166.5 361.0 L168.4 361.4 L170.2 361.9 L172.1 362.4 L173.9 363.0 L175.7 363.6 L177.5 364.3 L179.3 365.0 L181.2 365.8 L183.0 366.5 L184.8 367.3 L186.7 368.1 L188.5 369.0 L190.3 369.9 L192.1 370.8 L193.9 371.8 L195.8 372.8 L197.6 373.8 L199.4 374.8 L201.1 375.8 L202.9 376.9 L204.7 378.0 L206.5 379.1 L208.2 380.3 L210.0 381.5 L211.8 382.9 L213.7 384.3 L215.5 385.9 L217.4 387.4 L219.2 389.0 L221.0 390.5 L222.8 392.1 L224.7 393.6 L226.5 395.2 L228.3 396.7 L230.2 398.3 L232.0 399.9 L233.8 401.5 L235.6 403.1 L237.5 404.8 L239.3 406.4 L241.1 408.1 L242.9 409.7 L244.8 411.4 L246.6 413.1 L248.4 414.7 L250.2 416.3 L251.9 417.8 L253.7 419.4 L255.5 420.9 L257.3 422.5 L259.0 424.0 L260.8 425.6 L262.7 423.2 L264.6 420.8 L266.5 418.3 L268.1 416.1 L269.8 413.8 L271.4 411.4 L273.0 409.0 L274.9 406.1 L276.8 403.1 L278.6 400.1 L280.5 397.0 L282.2 394.3 L283.9 391.5 L285.6 388.7 L287.3 385.9 L289.0 383.0 L290.8 379.8 L292.7 376.5 L294.5 373.1 L296.3 369.6 L298.2 366.1 L300.0 362.5 L301.6 359.2 L303.2 355.9 L304.9 352.5 L306.5 349.0 L308.2 345.3 L309.8 341.6 L311.5 337.8 L313.1 333.9 L314.8 330.0 L316.5 325.9 L318.2 321.6 L319.9 317.3 L321.6 313.0 L323.3 308.8 L325.0 304.7 L326.7 300.6 L328.4 296.6 L330.1 292.5 L331.8 288.4 L333.5 284.0 L335.3 279.6 L337.0 275.1 L338.8 270.7 L340.5 266.5 L342.4 262.2 L344.3 258.0 L346.2 253.9 L348.1 249.8 L350.0 245.5 L351.9 241.1 L353.8 236.6 L355.6 232.0 L357.5 227.4 L359.4 222.8 L361.3 218.3 L363.1 214.1 L364.8 210.0 L366.6 205.8 L368.3 201.8 L370.1 197.8 L371.8 194.0 L373.6 190.2 L375.3 186.5 L377.1 182.9 L378.8 179.4 L380.5 176.3 L382.2 173.3 L383.9 170.0 L385.6 165.7 L387.4 160.8 L389.1 156.0 L390.9 151.9 L392.5 148.9 L394.1 146.3 L395.8 143.9 L397.4 141.5 L399.0 139.0 L400.8 136.1 L402.5 133.1 L404.2 130.2 L406.0 127.4 L408.0 124.4 L409.9 121.6 L411.9 119.2 L413.8 117.5 L415.8 116.0 L417.7 114.5 L419.4 113.0 L421.2 111.5 L422.9 110.1 L424.7 108.7 L426.5 107.5 L428.2 106.5 L430.0 105.2 L431.8 103.4 L433.5 101.2 L435.3 99.5 L437.0 98.3 L438.7 97.3 L440.4 96.4 L442.1 95.6 L443.8 94.8 L445.5 93.9 L447.2 93.0 L448.9 92.0 L450.6 91.1 L452.4 90.2 L454.1 89.4 L455.8 88.8 L457.5 88.3 L459.2 87.8 L460.9 87.4 L462.6 87.1 L464.3 86.7 L466.0 86.3 L467.7 85.9 L469.4 85.4 L471.1 84.9 L472.8 84.5 L474.5 84.1 L476.2 83.9 L477.9 83.7 L479.6 83.6 L481.2 83.5 L482.9 83.4 L484.6 83.3 L486.3 83.2" fill="none" stroke="#e41a1c" stroke-width="4.70" stroke-linecap="butt" stroke-linejoin="round" clip-path="url(#ca)"/>
<path d="M117.4 345.8 L139.2 346.4 L171.3 347.2 L185.9 349.0 L193.2 354.0 L200.5 354.8 L207.5 362.1 L219.2 368.2 L225.0 370.1 L232.3 376.7 L238.2 384.7 L242.6 387.7 L248.4 400.0 L254.2 413.2 L260.8 422.3 L267.4 408.4 L277.4 383.0 L286.2 360.7 L290.0 352.0 L298.2 330.0 L304.7 308.8 L306.9 301.5 L314.2 287.0 L321.5 273.8 L327.4 259.2 L331.8 249.0 L340.5 235.8 L344.9 230.0 L348.2 227.6 L354.0 220.3 L355.5 207.2 L359.9 201.3 L365.7 188.2 L368.6 176.5 L373.0 168.5 L381.0 164.1 L386.1 156.1 L390.9 150.7 L397.9 146.1 L400.2 141.4 L408.4 134.4 L414.2 127.4 L420.0 120.5 L425.9 114.7 L430.2 110.3 L436.3 107.2 L443.5 106.2 L447.6 101.1 L454.7 96.0 L460.9 92.9 L469.0 91.4 L477.2 90.9 L486.3 90.9" fill="none" stroke="#000000" stroke-width="4.70" stroke-linecap="butt" stroke-linejoin="round" clip-path="url(#ca)"/>
<path d="M123.0 487.4 L135.3 486.3 L147.6 506.8 L159.9 497.6 L172.2 509.9 L184.6 500.7 L196.9 493.5 L209.2 493.1 L221.5 497.6 L233.8 497.6 L246.1 493.5 L258.4 489.4 L270.8 486.3 L283.1 487.4 L295.4 481.6 L307.7 485.7 L320.0 483.3 L332.3 479.2 L344.7 477.7 L357.0 481.6 L369.3 484.9 L381.6 481.2 L393.9 487.4 L406.2 489.0 L418.5 486.0 L430.9 482.2 L443.2 479.2 L455.5 458.7 L467.8 470.0 L480.1 443.3" fill="none" stroke="#808080" stroke-width="2.35" stroke-dasharray="4.7 3.6" stroke-linecap="butt" stroke-linejoin="round" clip-path="url(#cb)"/>
<path d="M123.0 470.0 L135.3 520.0 L147.6 531.0 L159.9 475.0 L172.2 509.9 L184.6 505.8 L196.9 502.7 L209.2 511.9 L221.5 509.9 L233.8 516.0 L246.1 508.8 L258.4 506.8 L270.8 505.4 L283.1 510.9 L295.4 506.8 L307.7 502.7 L320.0 500.7 L332.3 499.2 L344.7 496.6 L357.0 504.8 L369.3 500.7 L381.6 497.0 L393.9 485.3 L406.2 442.3 L418.5 472.0 L430.9 482.2 L443.2 484.0 L455.5 476.0 L467.8 458.7 L480.1 480.0" fill="none" stroke="#808080" stroke-width="2.35" stroke-dasharray="4.7 3.6" stroke-linecap="butt" stroke-linejoin="round" clip-path="url(#cb)"/>
<path d="M123.0 575.0 L135.3 592.0 L147.6 570.0 L159.9 585.0 L172.2 600.0 L184.6 572.0 L196.9 563.0 L209.2 560.0 L221.5 556.0 L233.8 552.0 L246.1 550.8 L258.4 551.8 L270.8 547.7 L283.1 544.7 L295.4 543.6 L307.7 542.6 L320.0 536.5 L332.3 539.0 L344.7 537.5 L357.0 535.4 L369.3 533.4 L381.6 544.7 L393.9 541.0 L406.2 544.7 L418.5 723.5 L430.9 546.7 L443.2 541.0 L455.5 536.0 L467.8 531.0 L480.1 546.0" fill="none" stroke="#808080" stroke-width="2.35" stroke-dasharray="4.7 3.6" stroke-linecap="butt" stroke-linejoin="round" clip-path="url(#cb)"/>
<path d="M123.0 560.0 L135.3 612.0 L147.6 566.0 L159.9 560.0 L172.2 590.0 L184.6 566.0 L196.9 556.0 L209.2 553.0 L221.5 549.0 L233.8 547.0 L246.1 546.0 L258.4 544.0 L270.8 541.0 L283.1 539.0 L295.4 538.0 L307.7 535.0 L320.0 532.0 L332.3 531.0 L344.7 529.0 L357.0 528.0 L369.3 527.0 L381.6 530.0 L393.9 533.0 L406.2 538.0 L418.5 541.0 L430.9 548.8 L443.2 653.6" fill="none" stroke="#808080" stroke-width="2.35" stroke-dasharray="4.7 3.6" stroke-linecap="butt" stroke-linejoin="round" clip-path="url(#cb)"/>
<path d="M123.0 545.9 L135.3 534.0 L147.6 525.2 L159.9 530.6 L172.2 534.6 L184.6 527.9 L196.9 526.5 L209.2 525.0 L221.5 520.6 L233.8 516.5 L246.1 519.4 L258.4 520.5 L270.8 522.5 L283.1 518.8 L295.4 514.9 L307.7 510.7 L320.0 505.0 L332.3 506.2 L344.7 500.4 L357.0 495.7 L369.3 490.5 L381.6 496.9 L393.9 490.0 L406.2 480.2 L418.5 474.0 L430.9 484.4 L443.2 478.8 L455.5 471.5 L467.8 466.6 L480.1 486.1" fill="none" stroke="#808080" stroke-width="2.35" stroke-dasharray="4.7 3.6" stroke-linecap="butt" stroke-linejoin="round" clip-path="url(#cb)"/>
<path d="M123.0 520.3 L135.3 519.8 L147.6 530.1 L159.9 522.3 L172.2 530.6 L184.6 524.5 L196.9 531.9 L209.2 528.7 L221.5 520.7 L233.8 522.7 L246.1 520.8 L258.4 516.3 L270.8 516.3 L283.1 515.5 L295.4 513.4 L307.7 512.8 L320.0 506.0 L332.3 505.5 L344.7 506.9 L357.0 505.8 L369.3 507.9 L381.6 506.0 L393.9 503.7 L406.2 489.2 L418.5 490.7 L430.9 478.9 L443.2 474.3 L455.5 460.3 L467.8 475.9 L480.1 502.2" fill="none" stroke="#808080" stroke-width="2.35" stroke-dasharray="4.7 3.6" stroke-linecap="butt" stroke-linejoin="round" clip-path="url(#cb)"/>
<path d="M123.0 569.9 L135.3 534.5 L147.6 540.7 L159.9 539.0 L172.2 535.0 L184.6 530.2 L196.9 535.6 L209.2 526.6 L221.5 525.1 L233.8 521.6 L246.1 524.2 L258.4 522.1 L270.8 521.0 L283.1 519.6 L295.4 516.9 L307.7 510.0 L320.0 511.6 L332.3 504.2 L344.7 502.8 L357.0 501.5 L369.3 493.4 L381.6 491.6 L393.9 492.6 L406.2 487.5 L418.5 477.1 L430.9 462.4 L443.2 460.2 L455.5 462.4 L467.8 458.0 L480.1 456.3" fill="none" stroke="#808080" stroke-width="2.35" stroke-dasharray="4.7 3.6" stroke-linecap="butt" stroke-linejoin="round" clip-path="url(#cb)"/>
<path d="M123.0 533.8 L135.3 530.8 L147.6 546.0 L159.9 537.7 L172.2 540.0 L184.6 540.5 L196.9 538.7 L209.2 529.1 L221.5 525.5 L233.8 525.4 L246.1 526.5 L258.4 524.1 L270.8 520.8 L283.1 518.0 L295.4 518.7 L307.7 516.7 L320.0 512.6 L332.3 509.7 L344.7 506.4 L357.0 506.1 L369.3 499.0 L381.6 499.0 L393.9 497.6 L406.2 496.1 L418.5 485.1 L430.9 498.4 L443.2 485.7 L455.5 489.3 L467.8 474.3 L480.1 457.7" fill="none" stroke="#808080" stroke-width="2.35" stroke-dasharray="4.7 3.6" stroke-linecap="butt" stroke-linejoin="round" clip-path="url(#cb)"/>
<path d="M123.0 551.9 L135.3 539.0 L147.6 547.3 L159.9 540.7 L172.2 540.6 L184.6 533.5 L196.9 540.0 L209.2 536.6 L221.5 528.9 L233.8 527.9 L246.1 524.5 L258.4 522.7 L270.8 524.3 L283.1 521.1 L295.4 515.8 L307.7 513.6 L320.0 513.6 L332.3 512.2 L344.7 512.9 L357.0 507.3 L369.3 507.5 L381.6 504.6 L393.9 496.7 L406.2 499.2 L418.5 496.6 L430.9 491.4 L443.2 496.7 L455.5 482.2 L467.8 480.4 L480.1 487.9" fill="none" stroke="#808080" stroke-width="2.35" stroke-dasharray="4.7 3.6" stroke-linecap="butt" stroke-linejoin="round" clip-path="url(#cb)"/>
<path d="M123.0 538.2 L135.3 537.0 L147.6 545.5 L159.9 551.1 L172.2 546.1 L184.6 538.3 L196.9 536.8 L209.2 530.7 L221.5 535.8 L233.8 531.0 L246.1 525.0 L258.4 528.6 L270.8 524.0 L283.1 524.3 L295.4 524.5 L307.7 520.0 L320.0 517.2 L332.3 514.2 L344.7 512.5 L357.0 506.8 L369.3 497.0 L381.6 498.4 L393.9 502.1 L406.2 503.2 L418.5 508.7 L430.9 510.8 L443.2 497.6 L455.5 494.7 L467.8 466.4 L480.1 466.9" fill="none" stroke="#808080" stroke-width="2.35" stroke-dasharray="4.7 3.6" stroke-linecap="butt" stroke-linejoin="round" clip-path="url(#cb)"/>
<path d="M123.0 554.5 L135.3 549.1 L147.6 546.1 L159.9 541.9 L172.2 538.7 L184.6 534.0 L196.9 536.1 L209.2 534.9 L221.5 528.3 L233.8 532.2 L246.1 531.5 L258.4 527.9 L270.8 524.6 L283.1 522.6 L295.4 521.7 L307.7 519.6 L320.0 518.7 L332.3 517.4 L344.7 517.2 L357.0 515.3 L369.3 511.7 L381.6 508.1 L393.9 498.7 L406.2 493.8 L418.5 504.0 L430.9 499.7 L443.2 510.0 L455.5 499.4 L467.8 494.4 L480.1 513.8" fill="none" stroke="#808080" stroke-width="2.35" stroke-dasharray="4.7 3.6" stroke-linecap="butt" stroke-linejoin="round" clip-path="url(#cb)"/>
<path d="M123.0 563.4 L135.3 546.5 L147.6 549.2 L159.9 548.5 L172.2 548.1 L184.6 546.9 L196.9 542.9 L209.2 543.9 L221.5 529.9 L233.8 530.3 L246.1 531.3 L258.4 529.5 L270.8 531.3 L283.1 530.3 L295.4 526.6 L307.7 525.6 L320.0 529.8 L332.3 524.7 L344.7 521.3 L357.0 516.8 L369.3 514.6 L381.6 504.3 L393.9 501.5 L406.2 516.5 L418.5 514.9 L430.9 516.8 L443.2 516.3 L455.5 526.7 L467.8 518.2 L480.1 546.0" fill="none" stroke="#808080" stroke-width="2.35" stroke-dasharray="4.7 3.6" stroke-linecap="butt" stroke-linejoin="round" clip-path="url(#cb)"/>
<path d="M123.0 566.2 L135.3 571.8 L147.6 547.4 L159.9 548.7 L172.2 555.0 L184.6 543.3 L196.9 544.0 L209.2 540.2 L221.5 535.8 L233.8 542.0 L246.1 539.4 L258.4 536.1 L270.8 537.2 L283.1 533.4 L295.4 533.0 L307.7 531.1 L320.0 532.4 L332.3 525.0 L344.7 525.6 L357.0 523.5 L369.3 515.1 L381.6 520.4 L393.9 509.9 L406.2 519.9 L418.5 517.3 L430.9 522.1 L443.2 514.9 L455.5 520.3 L467.8 489.6 L480.1 501.9" fill="none" stroke="#808080" stroke-width="2.35" stroke-dasharray="4.7 3.6" stroke-linecap="butt" stroke-linejoin="round" clip-path="url(#cb)"/>
<path d="M123.0 566.2 L135.3 552.1 L147.6 561.7 L159.9 551.6 L172.2 562.1 L184.6 557.0 L196.9 549.0 L209.2 543.5 L221.5 539.1 L233.8 539.3 L246.1 540.4 L258.4 533.3 L270.8 530.7 L283.1 527.6 L295.4 524.9 L307.7 521.7 L320.0 524.0 L332.3 520.5 L344.7 524.2 L357.0 523.7 L369.3 516.0 L381.6 508.9 L393.9 504.2 L406.2 514.5 L418.5 504.9 L430.9 499.3 L443.2 499.9 L455.5 505.5 L467.8 493.2 L480.1 525.6" fill="none" stroke="#808080" stroke-width="2.35" stroke-dasharray="4.7 3.6" stroke-linecap="butt" stroke-linejoin="round" clip-path="url(#cb)"/>
<path d="M123.0 575.4 L135.3 550.2 L147.6 559.2 L159.9 557.3 L172.2 549.1 L184.6 546.8 L196.9 542.0 L209.2 542.5 L221.5 536.2 L233.8 541.9 L246.1 539.9 L258.4 539.9 L270.8 539.5 L283.1 533.3 L295.4 527.0 L307.7 528.1 L320.0 530.9 L332.3 529.5 L344.7 529.8 L357.0 529.6 L369.3 519.9 L381.6 521.0 L393.9 527.9 L406.2 519.2 L418.5 503.8 L430.9 510.6 L443.2 506.2 L455.5 512.7 L467.8 497.9 L480.1 509.2" fill="none" stroke="#808080" stroke-width="2.35" stroke-dasharray="4.7 3.6" stroke-linecap="butt" stroke-linejoin="round" clip-path="url(#cb)"/>
<path d="M123.0 578.0 L135.3 574.3 L147.6 575.6 L159.9 553.8 L172.2 557.1 L184.6 536.6 L196.9 542.3 L209.2 540.9 L221.5 535.2 L233.8 535.8 L246.1 535.1 L258.4 536.3 L270.8 534.4 L283.1 533.0 L295.4 526.2 L307.7 524.1 L320.0 524.0 L332.3 524.6 L344.7 523.5 L357.0 525.6 L369.3 518.8 L381.6 515.4 L393.9 513.2 L406.2 510.9 L418.5 512.2 L430.9 510.6 L443.2 518.5 L455.5 511.1 L467.8 517.4 L480.1 518.0" fill="none" stroke="#808080" stroke-width="2.35" stroke-dasharray="4.7 3.6" stroke-linecap="butt" stroke-linejoin="round" clip-path="url(#cb)"/>
<path d="M123.0 553.6 L135.3 563.1 L147.6 566.2 L159.9 567.1 L172.2 572.6 L184.6 555.7 L196.9 551.3 L209.2 547.9 L221.5 546.9 L233.8 540.9 L246.1 542.5 L258.4 539.6 L270.8 538.0 L283.1 538.2 L295.4 538.9 L307.7 537.4 L320.0 536.6 L332.3 536.6 L344.7 535.8 L357.0 529.0 L369.3 524.7 L381.6 528.1 L393.9 532.8 L406.2 542.9 L418.5 539.3 L430.9 538.0 L443.2 523.6 L455.5 525.2 L467.8 529.3 L480.1 550.8" fill="none" stroke="#808080" stroke-width="2.35" stroke-dasharray="4.7 3.6" stroke-linecap="butt" stroke-linejoin="round" clip-path="url(#cb)"/>
<path d="M123.0 578.2 L135.3 572.4 L147.6 584.6 L159.9 572.1 L172.2 565.3 L184.6 552.6 L196.9 551.4 L209.2 547.4 L221.5 546.7 L233.8 546.8 L246.1 545.4 L258.4 545.5 L270.8 541.2 L283.1 540.2 L295.4 536.9 L307.7 536.3 L320.0 538.4 L332.3 535.8 L344.7 529.7 L357.0 529.8 L369.3 524.1 L381.6 517.3 L393.9 514.6 L406.2 524.8 L418.5 533.4 L430.9 528.7 L443.2 531.3 L455.5 537.7 L467.8 513.3 L480.1 520.0" fill="none" stroke="#808080" stroke-width="2.35" stroke-dasharray="4.7 3.6" stroke-linecap="butt" stroke-linejoin="round" clip-path="url(#cb)"/>
<path d="M123.0 583.2 L135.3 552.1 L147.6 563.9 L159.9 571.7 L172.2 575.5 L184.6 568.4 L196.9 560.5 L209.2 560.7 L221.5 554.6 L233.8 546.5 L246.1 547.4 L258.4 544.8 L270.8 545.0 L283.1 542.9 L295.4 543.8 L307.7 542.5 L320.0 540.5 L332.3 541.7 L344.7 540.5 L357.0 537.8 L369.3 542.7 L381.6 535.8 L393.9 528.4 L406.2 526.9 L418.5 518.7 L430.9 523.4 L443.2 538.0 L455.5 525.6 L467.8 521.7 L480.1 512.7" fill="none" stroke="#808080" stroke-width="2.35" stroke-dasharray="4.7 3.6" stroke-linecap="butt" stroke-linejoin="round" clip-path="url(#cb)"/>
<path d="M123.0 608.5 L135.3 587.9 L147.6 575.5 L159.9 570.9 L172.2 566.8 L184.6 556.0 L196.9 554.0 L209.2 550.6 L221.5 549.5 L233.8 549.5 L246.1 548.7 L258.4 546.4 L270.8 542.0 L283.1 542.0 L295.4 538.9 L307.7 542.1 L320.0 542.8 L332.3 543.1 L344.7 540.4 L357.0 535.1 L369.3 538.3 L381.6 542.9 L393.9 528.4 L406.2 531.6 L418.5 538.5 L430.9 531.7 L443.2 542.8 L455.5 534.3 L467.8 515.6 L480.1 545.1" fill="none" stroke="#808080" stroke-width="2.35" stroke-dasharray="4.7 3.6" stroke-linecap="butt" stroke-linejoin="round" clip-path="url(#cb)"/>
<path d="M123.0 556.5 L135.3 546.7 L147.6 552.8 L159.9 550.8 L172.2 551.8 L184.6 542.6 L196.9 541.6 L209.2 538.5 L221.5 534.4 L233.8 532.4 L246.1 531.0 L258.4 530.0 L270.8 529.0 L283.1 527.7 L295.4 526.0 L307.7 524.3 L320.0 522.6 L332.3 520.5 L344.7 518.5 L357.0 516.4 L369.3 513.5 L381.6 510.5 L393.9 505.8 L406.2 504.7 L418.5 502.1 L430.9 505.4 L443.2 501.3 L455.5 500.7 L467.8 495.5 L480.1 501.7" fill="none" stroke="#808080" stroke-width="4.70" stroke-linecap="butt" stroke-linejoin="round" clip-path="url(#cb)"/>
<path d="M123.0 505.4 L135.3 509.5" fill="none" stroke="#000000" stroke-width="4.70" stroke-linecap="butt" stroke-linejoin="round" clip-path="url(#cb)"/>
<path d="M159.9 565.1 L172.2 520.1 L184.6 549.8 L196.9 562.7 L209.2 547.7 L221.5 533.4 L233.8 532.8 L246.1 537.0 L258.4 533.4 L270.8 530.3 L283.1 527.3 L295.4 523.8 L307.7 517.6 L320.0 519.5 L332.3 512.3 L344.7 518.7 L357.0 506.8 L369.3 513.8 L381.6 508.3 L393.9 512.9 L406.2 511.9 L418.5 516.0 L430.9 512.9 L443.2 511.5 L455.5 516.4 L467.8 497.6" fill="none" stroke="#000000" stroke-width="4.70" stroke-linecap="butt" stroke-linejoin="round" clip-path="url(#cb)"/>
<path d="M123.0 658.0 L135.3 656.3 L147.6 652.8 L159.9 649.3 L172.2 647.5 L184.6 650.1 L196.9 651.9 L209.2 648.4 L221.5 650.1 L233.8 651.9 L246.1 654.3 L258.4 659.4 L270.8 654.3 L283.1 657.4 L295.4 656.4 L307.7 664.6 L320.0 667.6 L332.3 662.5 L344.7 663.5 L357.0 660.5 L369.3 647.2 L381.6 661.5 L393.9 649.2 L406.2 652.3 L418.5 651.3 L430.9 649.2 L443.2 655.4 L455.5 650.2 L467.8 652.3 L480.1 668.0" fill="none" stroke="#808080" stroke-width="2.35" stroke-dasharray="4.7 3.6" stroke-linecap="butt" stroke-linejoin="round" clip-path="url(#cc)"/>
<path d="M123.0 689.8 L135.3 671.2 L147.6 721.1 L159.9 675.1 L172.2 672.9 L184.6 688.2 L196.9 667.0 L209.2 658.5 L221.5 670.0 L233.8 671.3 L246.1 662.4 L258.4 667.9 L270.8 667.1 L283.1 678.5 L295.4 659.6 L307.7 662.0 L320.0 682.0 L332.3 692.2 L344.7 664.1 L357.0 676.8 L369.3 662.7 L381.6 657.0 L393.9 658.4 L406.2 649.2 L418.5 668.7 L430.9 671.1 L443.2 665.6 L455.5 658.1 L467.8 669.9 L480.1 670.0" fill="none" stroke="#808080" stroke-width="2.35" stroke-dasharray="4.7 3.6" stroke-linecap="butt" stroke-linejoin="round" clip-path="url(#cc)"/>
<path d="M123.0 709.2 L135.3 680.7 L147.6 696.0 L159.9 675.4 L172.2 678.2 L184.6 681.5 L196.9 684.0 L209.2 693.1 L221.5 687.3 L233.8 704.8 L246.1 691.5 L258.4 683.1 L270.8 684.3 L283.1 689.2 L295.4 689.9 L307.7 700.7 L320.0 703.5 L332.3 693.0 L344.7 682.5 L357.0 682.5 L369.3 695.7 L381.6 687.4 L393.9 671.9 L406.2 657.5 L418.5 660.1 L430.9 678.1 L443.2 671.9 L455.5 699.9 L467.8 702.3 L480.1 693.0" fill="none" stroke="#808080" stroke-width="2.35" stroke-dasharray="4.7 3.6" stroke-linecap="butt" stroke-linejoin="round" clip-path="url(#cc)"/>
<path d="M123.0 695.4 L135.3 710.3 L147.6 710.7 L159.9 678.4 L172.2 694.3 L184.6 691.9 L196.9 706.2 L209.2 693.1 L221.5 664.3 L233.8 694.3 L246.1 677.5 L258.4 705.0 L270.8 717.0 L283.1 700.6 L295.4 686.1 L307.7 678.0 L320.0 697.9 L332.3 689.8 L344.7 684.5 L357.0 687.8 L369.3 710.8 L381.6 700.6 L393.9 704.8 L406.2 692.5 L418.5 697.8 L430.9 698.1 L443.2 678.4 L455.5 675.9 L467.8 677.1 L480.1 673.7" fill="none" stroke="#808080" stroke-width="2.35" stroke-dasharray="4.7 3.6" stroke-linecap="butt" stroke-linejoin="round" clip-path="url(#cc)"/>
<path d="M123.0 738.5 L135.3 707.2 L147.6 718.2 L159.9 689.1 L172.2 689.8 L184.6 705.3 L196.9 698.6 L209.2 691.4 L221.5 705.3 L233.8 712.9 L246.1 718.2 L258.4 712.4 L270.8 688.7 L283.1 705.4 L295.4 710.3 L307.7 717.5 L320.0 701.3 L332.3 724.0 L344.7 696.8 L357.0 707.7 L369.3 702.5 L381.6 693.4 L393.9 707.4 L406.2 686.8 L418.5 662.8 L430.9 662.5 L443.2 682.0 L455.5 713.5 L467.8 687.6 L480.1 693.3" fill="none" stroke="#808080" stroke-width="2.35" stroke-dasharray="4.7 3.6" stroke-linecap="butt" stroke-linejoin="round" clip-path="url(#cc)"/>
<path d="M123.0 755.0 L135.3 737.8 L147.6 731.0 L159.9 690.1 L172.2 681.4 L184.6 689.9 L196.9 699.4 L209.2 678.0 L221.5 682.2 L233.8 707.3 L246.1 709.0 L258.4 704.6 L270.8 704.7 L283.1 702.4 L295.4 718.7 L307.7 732.4 L320.0 742.1 L332.3 727.0 L344.7 723.3 L357.0 730.9 L369.3 734.3 L381.6 731.5 L393.9 731.9 L406.2 697.6 L418.5 680.1 L430.9 697.8 L443.2 694.6 L455.5 693.6 L467.8 691.5 L480.1 679.2" fill="none" stroke="#808080" stroke-width="2.35" stroke-dasharray="4.7 3.6" stroke-linecap="butt" stroke-linejoin="round" clip-path="url(#cc)"/>
<path d="M123.0 765.9 L135.3 747.0 L147.6 731.7 L159.9 722.1 L172.2 726.6 L184.6 729.1 L196.9 750.9 L209.2 729.2 L221.5 713.4 L233.8 723.4 L246.1 719.5 L258.4 728.7 L270.8 727.1 L283.1 729.5 L295.4 720.6 L307.7 726.8 L320.0 719.8 L332.3 722.1 L344.7 716.6 L357.0 707.6 L369.3 717.9 L381.6 708.0 L393.9 730.5 L406.2 714.4 L418.5 715.5 L430.9 709.0 L443.2 705.1 L455.5 673.2 L467.8 717.4 L480.1 703.2" fill="none" stroke="#808080" stroke-width="2.35" stroke-dasharray="4.7 3.6" stroke-linecap="butt" stroke-linejoin="round" clip-path="url(#cc)"/>
<path d="M123.0 768.6 L135.3 737.2 L147.6 749.4 L159.9 727.7 L172.2 719.1 L184.6 725.2 L196.9 736.4 L209.2 726.3 L221.5 719.2 L233.8 726.0 L246.1 736.4 L258.4 748.1 L270.8 747.7 L283.1 743.5 L295.4 728.1 L307.7 741.1 L320.0 737.1 L332.3 727.4 L344.7 737.2 L357.0 739.7 L369.3 736.8 L381.6 716.8 L393.9 718.0 L406.2 691.7 L418.5 708.7 L430.9 710.8 L443.2 723.2 L455.5 719.7 L467.8 720.4 L480.1 755.1" fill="none" stroke="#808080" stroke-width="2.35" stroke-dasharray="4.7 3.6" stroke-linecap="butt" stroke-linejoin="round" clip-path="url(#cc)"/>
<path d="M123.0 736.9 L135.3 721.1 L147.6 743.1 L159.9 741.6 L172.2 738.9 L184.6 735.4 L196.9 728.1 L209.2 749.5 L221.5 740.8 L233.8 734.7 L246.1 741.4 L258.4 735.4 L270.8 737.0 L283.1 755.2 L295.4 743.6 L307.7 742.7 L320.0 738.9 L332.3 733.7 L344.7 743.8 L357.0 746.4 L369.3 735.7 L381.6 723.5 L393.9 730.5 L406.2 729.0 L418.5 726.3 L430.9 720.9 L443.2 698.7 L455.5 723.8 L467.8 710.6 L480.1 702.0" fill="none" stroke="#808080" stroke-width="2.35" stroke-dasharray="4.7 3.6" stroke-linecap="butt" stroke-linejoin="round" clip-path="url(#cc)"/>
<path d="M123.0 704.5 L135.3 697.3 L147.6 709.6 L159.9 689.1 L172.2 691.2 L184.6 690.6 L196.9 692.2 L209.2 688.5 L221.5 693.2 L233.8 697.3 L246.1 698.3 L258.4 697.3 L270.8 695.3 L283.1 696.3 L295.4 696.3 L307.7 696.3 L320.0 696.3 L332.3 691.2 L344.7 691.2 L357.0 693.0 L369.3 691.2 L381.6 689.1 L393.9 692.2 L406.2 678.9 L418.5 680.9 L430.9 678.9 L443.2 678.9 L455.5 678.9 L467.8 689.1 L480.1 690.1" fill="none" stroke="#808080" stroke-width="4.70" stroke-linecap="butt" stroke-linejoin="round" clip-path="url(#cc)"/>
<path d="M123.0 654.7 L135.3 637.6 L147.6 657.0 L159.9 653.2 L172.2 667.2 L184.6 663.5 L196.9 656.6 L209.2 679.6 L221.5 684.7 L233.8 690.5 L246.1 688.9 L258.4 701.8 L270.8 699.3 L283.1 707.2 L295.4 713.7 L307.7 716.1 L320.0 707.4 L332.3 731.9 L344.7 725.6 L357.0 718.7 L369.3 731.9 L381.6 727.6 L393.9 732.6 L406.2 727.6 L418.5 719.0 L430.9 717.0 L443.2 720.8 L455.5 737.8 L467.8 668.0 L480.1 649.0" fill="none" stroke="#e41a1c" stroke-width="2.35" stroke-dasharray="4.7 3.6" stroke-linecap="butt" stroke-linejoin="round" clip-path="url(#cc)"/>
<path d="M123.0 672.8 L135.3 647.0 L147.6 638.5 L159.9 653.2 L172.2 689.7 L184.6 659.0 L196.9 684.4 L209.2 681.1 L221.5 698.0 L233.8 687.3 L246.1 688.7 L258.4 706.0 L270.8 694.2 L283.1 707.2 L295.4 713.5 L307.7 717.0 L320.0 712.8 L332.3 719.6 L344.7 746.4 L357.0 723.9 L369.3 731.2 L381.6 732.6 L393.9 739.6 L406.2 732.8 L418.5 722.3 L430.9 716.0 L443.2 721.5 L455.5 764.0 L467.8 730.0 L480.1 729.0" fill="none" stroke="#e41a1c" stroke-width="2.35" stroke-dasharray="4.7 3.6" stroke-linecap="butt" stroke-linejoin="round" clip-path="url(#cc)"/>
<path d="M123.0 669.2 L135.3 631.5 L147.6 671.8 L159.9 633.0 L172.2 667.9 L184.6 683.3 L196.9 696.4 L209.2 672.6 L221.5 681.7 L233.8 707.3 L246.1 696.0 L258.4 694.3 L270.8 696.8 L283.1 708.9 L295.4 709.8 L307.7 707.8 L320.0 727.8 L332.3 721.5 L344.7 726.6 L357.0 724.1 L369.3 725.7 L381.6 730.2 L393.9 728.0 L406.2 723.2 L418.5 746.6 L430.9 725.9 L443.2 720.6 L455.5 730.2 L467.8 697.6 L480.1 683.5" fill="none" stroke="#e41a1c" stroke-width="2.35" stroke-dasharray="4.7 3.6" stroke-linecap="butt" stroke-linejoin="round" clip-path="url(#cc)"/>
<path d="M123.0 682.0 L135.3 636.8 L147.6 648.4 L159.9 687.7 L172.2 671.4 L184.6 688.0 L196.9 726.0 L209.2 684.4 L221.5 684.1 L233.8 687.3 L246.1 700.3 L258.4 698.6 L270.8 692.0 L283.1 708.7 L295.4 704.1 L307.7 708.1 L320.0 723.7 L332.3 727.2 L344.7 718.8 L357.0 729.5 L369.3 731.0 L381.6 734.1 L393.9 750.7 L406.2 726.4 L418.5 718.0 L430.9 716.4 L443.2 714.2 L455.5 724.2 L467.8 692.1 L480.1 682.0" fill="none" stroke="#e41a1c" stroke-width="2.35" stroke-dasharray="4.7 3.6" stroke-linecap="butt" stroke-linejoin="round" clip-path="url(#cc)"/>
<path d="M123.0 669.1 L135.3 632.8 L147.6 643.1 L159.9 672.8 L172.2 671.9 L184.6 703.7 L196.9 680.6 L209.2 678.5 L221.5 685.2 L233.8 690.2 L246.1 690.8 L258.4 701.3 L270.8 705.4 L283.1 707.2 L295.4 713.7 L307.7 710.6 L320.0 717.3 L332.3 733.5 L344.7 718.5 L357.0 727.4 L369.3 724.2 L381.6 738.9 L393.9 734.4 L406.2 730.3 L418.5 732.3 L430.9 717.5 L443.2 717.1 L455.5 724.0 L467.8 709.1 L480.1 678.8" fill="none" stroke="#e41a1c" stroke-width="2.35" stroke-dasharray="4.7 3.6" stroke-linecap="butt" stroke-linejoin="round" clip-path="url(#cc)"/>
<path d="M123.0 661.5 L135.3 638.0 L147.6 656.4 L159.9 663.5 L172.2 672.7 L184.6 671.7 L196.9 678.9 L209.2 684.0 L221.5 688.1 L233.8 688.1 L246.1 689.6 L258.4 693.2 L270.8 692.2 L283.1 698.3 L295.4 701.4 L307.7 708.6 L320.0 708.6 L332.3 719.8 L344.7 719.8 L357.0 718.8 L369.3 724.9 L381.6 727.5 L393.9 727.0 L406.2 721.9 L418.5 713.7 L430.9 713.7 L443.2 713.7 L455.5 723.9 L467.8 692.2 L480.1 675.8" fill="none" stroke="#e41a1c" stroke-width="4.70" stroke-linecap="butt" stroke-linejoin="round" clip-path="url(#cc)"/>
<path d="M123.0 738.6 L135.3 662.2" fill="none" stroke="#000000" stroke-width="2.35" stroke-dasharray="2.2 3.5" stroke-linecap="butt" stroke-linejoin="round" clip-path="url(#cc)"/>
<path d="M159.9 681.5 L172.2 682.2 L184.6 676.9 L196.9 689.0 L209.2 674.4 L221.5 673.2 L233.8 690.7 L246.1 689.4 L258.4 682.3 L270.8 682.0 L283.1 690.6 L295.4 699.1 L307.7 701.6 L320.0 680.7 L332.3 688.9 L344.7 673.4 L357.0 699.5 L369.3 698.8 L381.6 707.1 L393.9 705.6 L406.2 720.2 L418.5 704.2 L430.9 708.7 L443.2 712.7 L455.5 686.5 L467.8 674.7" fill="none" stroke="#000000" stroke-width="2.35" stroke-dasharray="2.2 3.5" stroke-linecap="butt" stroke-linejoin="round" clip-path="url(#cc)"/>
<path d="M123.0 699.8 L135.3 662.0" fill="none" stroke="#000000" stroke-width="2.35" stroke-dasharray="2.2 3.5" stroke-linecap="butt" stroke-linejoin="round" clip-path="url(#cc)"/>
<path d="M159.9 674.3 L172.2 673.6 L184.6 672.7 L196.9 672.8 L209.2 671.0 L221.5 664.2 L233.8 677.3 L246.1 682.6 L258.4 675.5 L270.8 673.8 L283.1 685.6 L295.4 691.5 L307.7 697.2 L320.0 672.9 L332.3 675.1 L344.7 670.0 L357.0 693.1 L369.3 690.6 L381.6 693.7 L393.9 689.0 L406.2 707.2 L418.5 698.6 L430.9 700.3 L443.2 700.3 L455.5 677.5 L467.8 668.7" fill="none" stroke="#000000" stroke-width="2.35" stroke-dasharray="2.2 3.5" stroke-linecap="butt" stroke-linejoin="round" clip-path="url(#cc)"/>
<path d="M123.0 718.8 L135.3 659.4" fill="none" stroke="#000000" stroke-width="4.70" stroke-linecap="butt" stroke-linejoin="round" clip-path="url(#cc)"/>
<path d="M159.9 677.9 L172.2 677.9 L184.6 674.8 L196.9 680.9 L209.2 672.7 L221.5 668.7 L233.8 684.0 L246.1 686.0 L258.4 678.9 L270.8 677.9 L283.1 688.1 L295.4 695.3 L307.7 699.4 L320.0 676.8 L332.3 682.0 L344.7 671.7 L357.0 696.3 L369.3 694.7 L381.6 700.4 L393.9 697.3 L406.2 713.7 L418.5 701.4 L430.9 704.5 L443.2 706.5 L455.5 682.0 L467.8 671.7" fill="none" stroke="#000000" stroke-width="4.70" stroke-linecap="butt" stroke-linejoin="round" clip-path="url(#cc)"/>
<g fill="none" stroke="#000" stroke-width="2.00" stroke-linecap="square">
<rect x="117.40" y="7.90" width="368.90" height="420.60"/>
<rect x="117.40" y="428.50" width="368.90" height="168.10"/>
<rect x="117.40" y="596.60" width="368.90" height="168.20"/>
</g>
<g stroke="#000" stroke-width="2.00">
<line x1="109.80" x2="117.40" y1="428.50" y2="428.50"/>
<line x1="109.80" x2="117.40" y1="371.34" y2="371.34"/>
<line x1="109.80" x2="117.40" y1="314.19" y2="314.19"/>
<line x1="109.80" x2="117.40" y1="257.03" y2="257.03"/>
<line x1="109.80" x2="117.40" y1="199.87" y2="199.87"/>
<line x1="109.80" x2="117.40" y1="142.71" y2="142.71"/>
<line x1="109.80" x2="117.40" y1="85.56" y2="85.56"/>
<line x1="109.80" x2="117.40" y1="28.40" y2="28.40"/>
<line x1="486.30" x2="493.90" y1="428.50" y2="428.50"/>
<line x1="486.30" x2="493.90" y1="344.38" y2="344.38"/>
<line x1="486.30" x2="493.90" y1="260.26" y2="260.26"/>
<line x1="486.30" x2="493.90" y1="176.14" y2="176.14"/>
<line x1="486.30" x2="493.90" y1="92.02" y2="92.02"/>
<line x1="486.30" x2="493.90" y1="7.90" y2="7.90"/>
<line x1="109.80" x2="117.40" y1="547.40" y2="547.40"/>
<line x1="109.80" x2="117.40" y1="448.40" y2="448.40"/>
<line x1="109.80" x2="117.40" y1="636.70" y2="636.70"/>
<line x1="109.80" x2="117.40" y1="716.70" y2="716.70"/>
<line x1="178.40" x2="178.40" y1="764.80" y2="772.40"/>
<line x1="260.50" x2="260.50" y1="764.80" y2="772.40"/>
<line x1="342.60" x2="342.60" y1="764.80" y2="772.40"/>
<line x1="424.70" x2="424.70" y1="764.80" y2="772.40"/>
</g>
<g font-family="DejaVu Sans, Liberation Sans, sans-serif" font-size="21.80px" fill="#000" stroke="#000" stroke-width="0.18">
<text x="102.50" y="436.78" text-anchor="end">0</text>
<text x="102.50" y="379.63" text-anchor="end">10</text>
<text x="102.50" y="322.47" text-anchor="end">20</text>
<text x="102.50" y="265.31" text-anchor="end">30</text>
<text x="102.50" y="208.16" text-anchor="end">40</text>
<text x="102.50" y="151.00" text-anchor="end">50</text>
<text x="102.50" y="93.84" text-anchor="end">60</text>
<text x="102.50" y="36.68" text-anchor="end">70</text>
<text x="501.20" y="436.78">0</text>
<text x="501.20" y="352.66">20</text>
<text x="501.20" y="268.54">40</text>
<text x="501.20" y="184.42">60</text>
<text x="501.20" y="100.30">80</text>
<text x="501.20" y="16.18">100</text>
<text x="102.50" y="555.68" text-anchor="end">0</text>
<text x="102.50" y="456.68" text-anchor="end">1</text>
<text x="102.50" y="644.98" text-anchor="end">0</text>
<text x="102.50" y="724.98" text-anchor="end">−10</text>
<text x="178.40" y="796.30" text-anchor="middle">−2</text>
<text x="260.50" y="796.30" text-anchor="middle">0</text>
<text x="342.60" y="796.30" text-anchor="middle">2</text>
<text x="424.70" y="796.30" text-anchor="middle">4</text>
</g>
<g font-family="DejaVu Sans, Liberation Sans, sans-serif" font-size="21.45px" fill="#000" stroke="#000" stroke-width="0.18">
<text x="301.80" y="828.30" text-anchor="middle">Cloud radiative effect (W m<tspan dy="-6.76" font-size="15.01px">−2</tspan><tspan dy="6.76" font-size="21.45px"> decade</tspan><tspan dy="-6.76" font-size="15.01px">−1</tspan><tspan dy="6.76" font-size="21.45px">)</tspan></text>
<text transform="translate(60.20 220.30) rotate(-90)" text-anchor="middle" letter-spacing="0.1">Cumulative area (10<tspan dy="-6.76" font-size="15.01px">6</tspan><tspan dy="6.76" font-size="21.45px"> km</tspan><tspan dy="-6.76" font-size="15.01px">2</tspan><tspan dy="6.76" font-size="21.45px">)</tspan></text>
<text transform="translate(567.00 217.80) rotate(-90)" text-anchor="middle">Cumulative area (%)</text>
<text transform="translate(48.40 516.00) rotate(-90)" text-anchor="middle">SST</text>
<text transform="translate(75.30 510.00) rotate(-90)" text-anchor="middle">(K decade<tspan dy="-6.76" font-size="15.01px">−1</tspan><tspan dy="6.76" font-size="21.45px">)</tspan></text>
<text transform="translate(16.00 684.00) rotate(-90)" text-anchor="middle">N<tspan dy="3.43" font-size="15.01px">d</tspan></text>
<text transform="translate(44.30 678.00) rotate(-90)" text-anchor="middle">(% decade<tspan dy="-6.76" font-size="15.01px">−1</tspan><tspan dy="6.76" font-size="21.45px">)</tspan></text>
</g>
<g font-family="DejaVu Sans, Liberation Sans, sans-serif" font-size="30.50px" font-weight="bold" fill="#000">
<text x="128.20" y="41.70">A</text>
<text x="128.20" y="459.20">B</text>
<text x="128.20" y="627.20">C</text>
</g>
<rect x="493.9" y="676.2" width="190.5" height="80.3" rx="3.3" ry="3.3" fill="#fff" fill-opacity="0.8" stroke="#cccccc" stroke-width="2.08"/>
<line x1="498.7" x2="537.0" y1="690.10" y2="690.10" stroke="#808080" stroke-width="4.20"/>
<text x="549.2" y="696.00" font-family="DejaVu Sans, Liberation Sans, sans-serif" font-size="16.95px" fill="#000" stroke="#000" stroke-width="0.15">CMIP6</text>
<line x1="498.7" x2="537.0" y1="715.20" y2="715.20" stroke="#e41a1c" stroke-width="4.20"/>
<text x="549.2" y="721.10" font-family="DejaVu Sans, Liberation Sans, sans-serif" font-size="16.95px" fill="#000" stroke="#000" stroke-width="0.15">CanAM5.1-PAM</text>
<line x1="498.7" x2="537.0" y1="740.30" y2="740.30" stroke="#000000" stroke-width="4.20"/>
<text x="549.2" y="746.20" font-family="DejaVu Sans, Liberation Sans, sans-serif" font-size="16.95px" fill="#000" stroke="#000" stroke-width="0.15">Observed</text>
</svg>
</body>
</html>
